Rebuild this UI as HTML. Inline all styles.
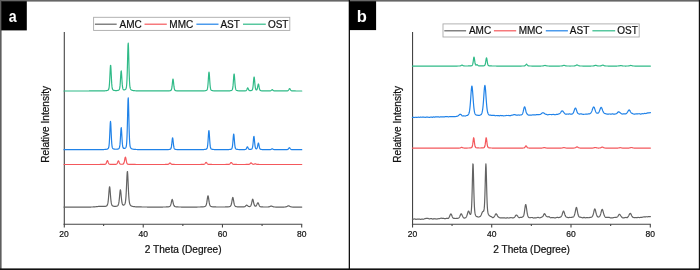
<!DOCTYPE html>
<html><head><meta charset="utf-8"><style>
html,body{margin:0;padding:0;background:#fff;}
body{width:700px;height:270px;overflow:hidden;position:relative;font-family:"Liberation Sans",sans-serif;}
svg{position:absolute;left:0;top:0;will-change:transform;}
.ax{stroke:#444;stroke-width:1.1;fill:none;}
.tl{font-family:"Liberation Sans",sans-serif;font-size:8.5px;fill:#111;stroke:#111;stroke-width:0.2px;text-anchor:middle;}
.xl{font-family:"Liberation Sans",sans-serif;font-size:10.1px;fill:#111;stroke:#111;stroke-width:0.22px;text-anchor:middle;}
.lt{font-family:"Liberation Sans",sans-serif;font-size:10px;fill:#111;stroke:#111;stroke-width:0.2px;}
.lg{fill:none;stroke:#aaa;stroke-width:0.9;}
.c{fill:none;stroke-width:1.2;stroke-linejoin:round;stroke-linecap:round;}
.pl{font-family:"Liberation Sans",sans-serif;font-size:16.5px;font-weight:bold;fill:#fff;text-anchor:middle;}
</style></head><body>
<svg width="700" height="270" viewBox="0 0 700 270">
<rect x="0" y="0" width="700" height="270" fill="#fff"/>
<!-- outer frame -->
<rect x="0" y="0" width="700" height="1.6" fill="#666"/>
<rect x="0" y="0" width="1.6" height="270" fill="#5e5e5e"/>
<rect x="698.8" y="0" width="1.2" height="270" fill="#111"/>
<rect x="0" y="268.4" width="700" height="1.6" fill="#111"/>
<rect x="348.7" y="0" width="1.3" height="270" fill="#111"/>
<!-- panel labels -->
<rect x="1.2" y="1.2" width="25.6" height="29.2" fill="#000"/>
<text transform="translate(12.7 22.2) scale(0.86 1)" class="pl">a</text>
<rect x="349.0" y="1.2" width="27.1" height="28.9" fill="#000"/>
<text x="361.9" y="22.1" class="pl">b</text>
<rect x="93.60" y="17.30" width="196.20" height="13.10" class="lg"/>
<line x1="94.90" y1="24.20" x2="116.70" y2="24.20" stroke="#636363" stroke-width="1.2"/>
<text x="119.50" y="27.50" class="lt">AMC</text>
<line x1="144.50" y1="24.20" x2="166.80" y2="24.20" stroke="#F4585C" stroke-width="1.2"/>
<text x="169.30" y="27.50" class="lt">MMC</text>
<line x1="196.40" y1="24.20" x2="218.50" y2="24.20" stroke="#2082E8" stroke-width="1.2"/>
<text x="220.40" y="27.50" class="lt">AST</text>
<line x1="243.00" y1="24.20" x2="265.80" y2="24.20" stroke="#2FBA87" stroke-width="1.2"/>
<text x="267.90" y="27.50" class="lt">OST</text>
<rect x="443.00" y="23.90" width="196.20" height="13.10" class="lg"/>
<line x1="444.30" y1="30.80" x2="466.10" y2="30.80" stroke="#636363" stroke-width="1.2"/>
<text x="468.90" y="34.10" class="lt">AMC</text>
<line x1="493.90" y1="30.80" x2="516.20" y2="30.80" stroke="#F4585C" stroke-width="1.2"/>
<text x="518.70" y="34.10" class="lt">MMC</text>
<line x1="545.80" y1="30.80" x2="567.90" y2="30.80" stroke="#2082E8" stroke-width="1.2"/>
<text x="569.80" y="34.10" class="lt">AST</text>
<line x1="592.40" y1="30.80" x2="615.20" y2="30.80" stroke="#2FBA87" stroke-width="1.2"/>
<text x="617.30" y="34.10" class="lt">OST</text>
<line x1="64.30" y1="32.10" x2="64.30" y2="227.50" class="ax"/>
<line x1="63.50" y1="224.20" x2="302.20" y2="224.20" class="ax"/>
<line x1="103.62" y1="224.20" x2="103.62" y2="225.90" class="ax"/>
<line x1="143.23" y1="224.20" x2="143.23" y2="227.50" class="ax"/>
<line x1="182.85" y1="224.20" x2="182.85" y2="225.90" class="ax"/>
<line x1="222.47" y1="224.20" x2="222.47" y2="227.50" class="ax"/>
<line x1="262.08" y1="224.20" x2="262.08" y2="225.90" class="ax"/>
<line x1="301.70" y1="224.20" x2="301.70" y2="227.50" class="ax"/>
<line x1="412.55" y1="32.10" x2="412.55" y2="227.60" class="ax"/>
<line x1="411.90" y1="224.30" x2="650.80" y2="224.30" class="ax"/>
<line x1="452.05" y1="224.30" x2="452.05" y2="226.00" class="ax"/>
<line x1="491.70" y1="224.30" x2="491.70" y2="227.60" class="ax"/>
<line x1="531.35" y1="224.30" x2="531.35" y2="226.00" class="ax"/>
<line x1="571.00" y1="224.30" x2="571.00" y2="227.60" class="ax"/>
<line x1="610.65" y1="224.30" x2="610.65" y2="226.00" class="ax"/>
<line x1="650.30" y1="224.30" x2="650.30" y2="227.60" class="ax"/>
<text x="64.00" y="237.00" class="tl">20</text>
<text x="143.23" y="237.00" class="tl">40</text>
<text x="222.47" y="237.00" class="tl">60</text>
<text x="301.70" y="237.00" class="tl">80</text>
<text x="412.40" y="237.00" class="tl">20</text>
<text x="491.70" y="237.00" class="tl">40</text>
<text x="571.00" y="237.00" class="tl">60</text>
<text x="650.30" y="237.00" class="tl">80</text>
<text x="183.2" y="252.6" class="xl">2 Theta (Degree)</text>
<text x="531.6" y="252.6" class="xl">2 Theta (Degree)</text>
<text transform="translate(49.2,124.3) rotate(-90)" class="xl">Relative Intensity</text>
<text transform="translate(400.5,124.3) rotate(-90)" class="xl">Relative Intensity</text>
<path class="c" stroke="#636363" d="M64.00 207.09 L64.25 207.09 L64.50 207.09 L64.75 207.09 L65.00 207.09 L65.25 207.09 L65.50 207.09 L65.75 207.09 L66.00 207.09 L66.25 207.09 L66.50 207.09 L66.75 207.09 L67.00 207.09 L67.25 207.09 L67.50 207.09 L67.75 207.09 L68.00 207.08 L68.25 207.08 L68.50 207.08 L68.75 207.08 L69.00 207.08 L69.25 207.08 L69.50 207.08 L69.75 207.08 L70.00 207.08 L70.25 207.08 L70.50 207.08 L70.75 207.08 L71.00 207.08 L71.25 207.08 L71.50 207.08 L71.75 207.08 L72.00 207.08 L72.25 207.08 L72.50 207.08 L72.75 207.08 L73.00 207.08 L73.25 207.08 L73.50 207.08 L73.75 207.08 L74.00 207.08 L74.25 207.08 L74.50 207.08 L74.75 207.08 L75.00 207.08 L75.25 207.08 L75.50 207.08 L75.75 207.08 L76.00 207.08 L76.25 207.08 L76.50 207.08 L76.75 207.08 L77.00 207.08 L77.25 207.08 L77.50 207.08 L77.75 207.08 L78.00 207.08 L78.25 207.08 L78.50 207.08 L78.75 207.08 L79.00 207.08 L79.25 207.07 L79.50 207.07 L79.75 207.07 L80.00 207.07 L80.25 207.07 L80.50 207.07 L80.75 207.07 L81.00 207.07 L81.25 207.07 L81.50 207.07 L81.75 207.07 L82.00 207.07 L82.25 207.07 L82.50 207.07 L82.75 207.07 L83.00 207.07 L83.25 207.07 L83.50 207.07 L83.75 207.07 L84.00 207.07 L84.25 207.07 L84.50 207.07 L84.75 207.07 L85.00 207.07 L85.25 207.06 L85.50 207.06 L85.75 207.06 L86.00 207.06 L86.25 207.06 L86.50 207.06 L86.75 207.06 L87.00 207.06 L87.25 207.06 L87.50 207.06 L87.75 207.06 L88.00 207.06 L88.25 207.05 L88.50 207.05 L88.75 207.05 L89.00 207.05 L89.25 207.05 L89.50 207.05 L89.75 207.04 L90.00 207.04 L90.25 207.04 L90.50 207.04 L90.75 207.03 L91.00 207.03 L91.25 207.02 L91.50 207.02 L91.75 207.01 L92.00 207.00 L92.25 207.00 L92.50 206.99 L92.75 206.98 L93.00 206.96 L93.25 206.95 L93.50 206.94 L93.75 206.92 L94.00 206.90 L94.25 206.88 L94.50 206.86 L94.75 206.84 L95.00 206.82 L95.25 206.79 L95.50 206.77 L95.75 206.74 L96.00 206.71 L96.25 206.68 L96.50 206.65 L96.75 206.62 L97.00 206.59 L97.25 206.56 L97.50 206.54 L97.75 206.51 L98.00 206.48 L98.25 206.46 L98.50 206.43 L98.75 206.41 L99.00 206.39 L99.25 206.38 L99.50 206.36 L99.75 206.35 L100.00 206.35 L100.25 206.34 L100.50 206.34 L100.75 206.34 L101.00 206.34 L101.25 206.34 L101.50 206.35 L101.75 206.36 L102.00 206.37 L102.25 206.38 L102.50 206.39 L102.75 206.40 L103.00 206.41 L103.25 206.41 L103.50 206.42 L103.75 206.42 L104.00 206.42 L104.25 206.42 L104.50 206.41 L104.75 206.39 L105.00 206.37 L105.25 206.33 L105.50 206.29 L105.75 206.24 L106.00 206.16 L106.25 206.07 L106.50 205.95 L106.75 205.78 L107.00 205.53 L107.25 205.17 L107.50 204.60 L107.75 203.71 L108.00 202.39 L108.25 200.49 L108.50 197.98 L108.75 194.92 L109.00 191.59 L109.25 188.60 L109.50 186.83 L109.75 187.04 L110.00 189.12 L110.25 192.24 L110.50 195.55 L110.75 198.51 L111.00 200.90 L111.25 202.66 L111.50 203.89 L111.75 204.69 L112.00 205.21 L112.25 205.55 L112.50 205.77 L112.75 205.93 L113.00 206.05 L113.25 206.14 L113.50 206.20 L113.75 206.26 L114.00 206.30 L114.25 206.33 L114.50 206.35 L114.75 206.36 L115.00 206.36 L115.25 206.36 L115.50 206.35 L115.75 206.33 L116.00 206.30 L116.25 206.26 L116.50 206.22 L116.75 206.15 L117.00 206.07 L117.25 205.97 L117.50 205.83 L117.75 205.63 L118.00 205.34 L118.25 204.90 L118.50 204.21 L118.75 203.17 L119.00 201.68 L119.25 199.67 L119.50 197.17 L119.75 194.38 L120.00 191.75 L120.25 189.99 L120.50 189.79 L120.75 191.24 L121.00 193.72 L121.25 196.48 L121.50 199.01 L121.75 201.07 L122.00 202.61 L122.25 203.67 L122.50 204.35 L122.75 204.76 L123.00 204.99 L123.25 205.10 L123.50 205.13 L123.75 205.10 L124.00 205.01 L124.25 204.86 L124.50 204.63 L124.75 204.27 L125.00 203.71 L125.25 202.82 L125.50 201.42 L125.75 199.29 L126.00 196.21 L126.25 192.04 L126.50 186.85 L126.75 181.06 L127.00 175.60 L127.25 171.95 L127.50 171.60 L127.75 174.70 L128.00 179.96 L128.25 185.81 L128.50 191.19 L128.75 195.61 L129.00 198.94 L129.25 201.28 L129.50 202.84 L129.75 203.86 L130.00 204.52 L130.25 204.97 L130.50 205.29 L130.75 205.53 L131.00 205.72 L131.25 205.88 L131.50 206.01 L131.75 206.12 L132.00 206.21 L132.25 206.29 L132.50 206.36 L132.75 206.42 L133.00 206.47 L133.25 206.52 L133.50 206.56 L133.75 206.60 L134.00 206.63 L134.25 206.66 L134.50 206.69 L134.75 206.71 L135.00 206.74 L135.25 206.76 L135.50 206.78 L135.75 206.79 L136.00 206.81 L136.25 206.82 L136.50 206.84 L136.75 206.85 L137.00 206.86 L137.25 206.87 L137.50 206.88 L137.75 206.89 L138.00 206.90 L138.25 206.91 L138.50 206.91 L138.75 206.92 L139.00 206.93 L139.25 206.93 L139.50 206.94 L139.75 206.94 L140.00 206.95 L140.25 206.95 L140.50 206.96 L140.75 206.96 L141.00 206.97 L141.25 206.97 L141.50 206.97 L141.75 206.98 L142.00 206.98 L142.25 206.98 L142.50 206.99 L142.75 206.99 L143.00 206.99 L143.25 207.00 L143.50 207.00 L143.75 207.00 L144.00 207.00 L144.25 207.01 L144.50 207.01 L144.75 207.01 L145.00 207.01 L145.25 207.01 L145.50 207.02 L145.75 207.02 L146.00 207.02 L146.25 207.02 L146.50 207.02 L146.75 207.02 L147.00 207.02 L147.25 207.03 L147.50 207.03 L147.75 207.03 L148.00 207.03 L148.25 207.03 L148.50 207.03 L148.75 207.03 L149.00 207.03 L149.25 207.03 L149.50 207.04 L149.75 207.04 L150.00 207.04 L150.25 207.04 L150.50 207.04 L150.75 207.04 L151.00 207.04 L151.25 207.04 L151.50 207.04 L151.75 207.04 L152.00 207.04 L152.25 207.04 L152.50 207.04 L152.75 207.04 L153.00 207.04 L153.25 207.04 L153.50 207.05 L153.75 207.05 L154.00 207.05 L154.25 207.05 L154.50 207.05 L154.75 207.05 L155.00 207.05 L155.25 207.05 L155.50 207.05 L155.75 207.05 L156.00 207.05 L156.25 207.05 L156.50 207.05 L156.75 207.05 L157.00 207.05 L157.25 207.05 L157.50 207.05 L157.75 207.05 L158.00 207.05 L158.25 207.05 L158.50 207.04 L158.75 207.04 L159.00 207.04 L159.25 207.04 L159.50 207.04 L159.75 207.04 L160.00 207.04 L160.25 207.04 L160.50 207.04 L160.75 207.04 L161.00 207.04 L161.25 207.04 L161.50 207.03 L161.75 207.03 L162.00 207.03 L162.25 207.03 L162.50 207.03 L162.75 207.03 L163.00 207.02 L163.25 207.02 L163.50 207.02 L163.75 207.02 L164.00 207.01 L164.25 207.01 L164.50 207.00 L164.75 207.00 L165.00 207.00 L165.25 206.99 L165.50 206.98 L165.75 206.98 L166.00 206.97 L166.25 206.96 L166.50 206.95 L166.75 206.94 L167.00 206.93 L167.25 206.91 L167.50 206.90 L167.75 206.88 L168.00 206.85 L168.25 206.83 L168.50 206.79 L168.75 206.75 L169.00 206.70 L169.25 206.63 L169.50 206.54 L169.75 206.40 L170.00 206.19 L170.25 205.88 L170.50 205.41 L170.75 204.76 L171.00 203.89 L171.25 202.83 L171.50 201.65 L171.75 200.52 L172.00 199.71 L172.25 199.49 L172.50 199.97 L172.75 200.95 L173.00 202.13 L173.25 203.28 L173.50 204.26 L173.75 205.04 L174.00 205.62 L174.25 206.02 L174.50 206.29 L174.75 206.46 L175.00 206.58 L175.25 206.66 L175.50 206.72 L175.75 206.77 L176.00 206.81 L176.25 206.84 L176.50 206.86 L176.75 206.89 L177.00 206.90 L177.25 206.92 L177.50 206.93 L177.75 206.95 L178.00 206.96 L178.25 206.97 L178.50 206.98 L178.75 206.98 L179.00 206.99 L179.25 207.00 L179.50 207.00 L179.75 207.01 L180.00 207.01 L180.25 207.01 L180.50 207.02 L180.75 207.02 L181.00 207.02 L181.25 207.03 L181.50 207.03 L181.75 207.03 L182.00 207.03 L182.25 207.04 L182.50 207.04 L182.75 207.04 L183.00 207.04 L183.25 207.04 L183.50 207.04 L183.75 207.04 L184.00 207.05 L184.25 207.05 L184.50 207.05 L184.75 207.05 L185.00 207.05 L185.25 207.05 L185.50 207.05 L185.75 207.05 L186.00 207.05 L186.25 207.05 L186.50 207.05 L186.75 207.05 L187.00 207.05 L187.25 207.05 L187.50 207.05 L187.75 207.05 L188.00 207.05 L188.25 207.06 L188.50 207.06 L188.75 207.06 L189.00 207.06 L189.25 207.06 L189.50 207.06 L189.75 207.06 L190.00 207.05 L190.25 207.05 L190.50 207.05 L190.75 207.05 L191.00 207.05 L191.25 207.05 L191.50 207.05 L191.75 207.05 L192.00 207.05 L192.25 207.05 L192.50 207.05 L192.75 207.05 L193.00 207.05 L193.25 207.05 L193.50 207.05 L193.75 207.05 L194.00 207.05 L194.25 207.05 L194.50 207.04 L194.75 207.04 L195.00 207.04 L195.25 207.04 L195.50 207.04 L195.75 207.04 L196.00 207.04 L196.25 207.04 L196.50 207.03 L196.75 207.03 L197.00 207.03 L197.25 207.03 L197.50 207.02 L197.75 207.02 L198.00 207.02 L198.25 207.02 L198.50 207.01 L198.75 207.01 L199.00 207.00 L199.25 207.00 L199.50 207.00 L199.75 206.99 L200.00 206.99 L200.25 206.98 L200.50 206.97 L200.75 206.96 L201.00 206.96 L201.25 206.95 L201.50 206.94 L201.75 206.93 L202.00 206.91 L202.25 206.90 L202.50 206.88 L202.75 206.86 L203.00 206.84 L203.25 206.82 L203.50 206.79 L203.75 206.76 L204.00 206.72 L204.25 206.67 L204.50 206.61 L204.75 206.54 L205.00 206.44 L205.25 206.31 L205.50 206.12 L205.75 205.84 L206.00 205.40 L206.25 204.76 L206.50 203.85 L206.75 202.63 L207.00 201.10 L207.25 199.37 L207.50 197.65 L207.75 196.30 L208.00 195.78 L208.25 196.30 L208.50 197.65 L208.75 199.37 L209.00 201.10 L209.25 202.63 L209.50 203.85 L209.75 204.76 L210.00 205.40 L210.25 205.83 L210.50 206.12 L210.75 206.31 L211.00 206.44 L211.25 206.54 L211.50 206.61 L211.75 206.66 L212.00 206.71 L212.25 206.75 L212.50 206.78 L212.75 206.81 L213.00 206.84 L213.25 206.86 L213.50 206.88 L213.75 206.89 L214.00 206.91 L214.25 206.92 L214.50 206.93 L214.75 206.94 L215.00 206.95 L215.25 206.95 L215.50 206.96 L215.75 206.97 L216.00 206.97 L216.25 206.98 L216.50 206.98 L216.75 206.99 L217.00 206.99 L217.25 206.99 L217.50 207.00 L217.75 207.00 L218.00 207.00 L218.25 207.00 L218.50 207.01 L218.75 207.01 L219.00 207.01 L219.25 207.01 L219.50 207.01 L219.75 207.01 L220.00 207.01 L220.25 207.01 L220.50 207.01 L220.75 207.01 L221.00 207.01 L221.25 207.01 L221.50 207.01 L221.75 207.01 L222.00 207.01 L222.25 207.01 L222.50 207.01 L222.75 207.01 L223.00 207.00 L223.25 207.00 L223.50 207.00 L223.75 207.00 L224.00 206.99 L224.25 206.99 L224.50 206.99 L224.75 206.98 L225.00 206.98 L225.25 206.97 L225.50 206.97 L225.75 206.96 L226.00 206.95 L226.25 206.95 L226.50 206.94 L226.75 206.93 L227.00 206.91 L227.25 206.90 L227.50 206.89 L227.75 206.87 L228.00 206.85 L228.25 206.83 L228.50 206.80 L228.75 206.77 L229.00 206.73 L229.25 206.68 L229.50 206.62 L229.75 206.55 L230.00 206.44 L230.25 206.29 L230.50 206.07 L230.75 205.73 L231.00 205.22 L231.25 204.50 L231.50 203.51 L231.75 202.27 L232.00 200.82 L232.25 199.33 L232.50 198.09 L232.75 197.49 L233.00 197.75 L233.25 198.78 L233.50 200.22 L233.75 201.70 L234.00 203.04 L234.25 204.13 L234.50 204.96 L234.75 205.55 L235.00 205.94 L235.25 206.21 L235.50 206.38 L235.75 206.50 L236.00 206.59 L236.25 206.65 L236.50 206.70 L236.75 206.74 L237.00 206.77 L237.25 206.80 L237.50 206.83 L237.75 206.85 L238.00 206.86 L238.25 206.88 L238.50 206.89 L238.75 206.90 L239.00 206.91 L239.25 206.92 L239.50 206.93 L239.75 206.93 L240.00 206.94 L240.25 206.94 L240.50 206.94 L240.75 206.95 L241.00 206.95 L241.25 206.95 L241.50 206.95 L241.75 206.95 L242.00 206.95 L242.25 206.94 L242.50 206.94 L242.75 206.93 L243.00 206.93 L243.25 206.91 L243.50 206.90 L243.75 206.88 L244.00 206.84 L244.25 206.79 L244.50 206.72 L244.75 206.62 L245.00 206.47 L245.25 206.29 L245.50 206.07 L245.75 205.82 L246.00 205.56 L246.25 205.33 L246.50 205.18 L246.75 205.13 L247.00 205.21 L247.25 205.38 L247.50 205.60 L247.75 205.84 L248.00 206.06 L248.25 206.24 L248.50 206.38 L248.75 206.48 L249.00 206.53 L249.25 206.55 L249.50 206.54 L249.75 206.49 L250.00 206.41 L250.25 206.28 L250.50 206.07 L250.75 205.76 L251.00 205.28 L251.25 204.61 L251.50 203.73 L251.75 202.64 L252.00 201.43 L252.25 200.27 L252.50 199.43 L252.75 199.20 L253.00 199.69 L253.25 200.70 L253.50 201.90 L253.75 203.06 L254.00 204.07 L254.25 204.85 L254.50 205.42 L254.75 205.81 L255.00 206.05 L255.25 206.17 L255.50 206.20 L255.75 206.15 L256.00 205.99 L256.25 205.73 L256.50 205.35 L256.75 204.84 L257.00 204.26 L257.25 203.64 L257.50 203.11 L257.75 202.77 L258.00 202.75 L258.25 203.06 L258.50 203.60 L258.75 204.24 L259.00 204.87 L259.25 205.43 L259.50 205.88 L259.75 206.22 L260.00 206.46 L260.25 206.62 L260.50 206.73 L260.75 206.79 L261.00 206.84 L261.25 206.87 L261.50 206.89 L261.75 206.91 L262.00 206.93 L262.25 206.94 L262.50 206.95 L262.75 206.96 L263.00 206.97 L263.25 206.98 L263.50 206.98 L263.75 206.99 L264.00 206.99 L264.25 207.00 L264.50 207.00 L264.75 207.00 L265.00 207.00 L265.25 207.01 L265.50 207.01 L265.75 207.01 L266.00 207.01 L266.25 207.01 L266.50 207.01 L266.75 207.01 L267.00 207.00 L267.25 207.00 L267.50 206.99 L267.75 206.98 L268.00 206.97 L268.25 206.95 L268.50 206.92 L268.75 206.88 L269.00 206.83 L269.25 206.76 L269.50 206.68 L269.75 206.58 L270.00 206.48 L270.25 206.36 L270.50 206.26 L270.75 206.16 L271.00 206.10 L271.25 206.07 L271.50 206.08 L271.75 206.14 L272.00 206.22 L272.25 206.33 L272.50 206.44 L272.75 206.55 L273.00 206.65 L273.25 206.74 L273.50 206.81 L273.75 206.87 L274.00 206.92 L274.25 206.96 L274.50 206.98 L274.75 207.00 L275.00 207.01 L275.25 207.02 L275.50 207.03 L275.75 207.04 L276.00 207.04 L276.25 207.04 L276.50 207.05 L276.75 207.05 L277.00 207.05 L277.25 207.05 L277.50 207.05 L277.75 207.06 L278.00 207.06 L278.25 207.06 L278.50 207.06 L278.75 207.06 L279.00 207.06 L279.25 207.06 L279.50 207.06 L279.75 207.06 L280.00 207.06 L280.25 207.06 L280.50 207.06 L280.75 207.06 L281.00 207.06 L281.25 207.06 L281.50 207.06 L281.75 207.06 L282.00 207.06 L282.25 207.06 L282.50 207.05 L282.75 207.05 L283.00 207.05 L283.25 207.05 L283.50 207.04 L283.75 207.04 L284.00 207.04 L284.25 207.03 L284.50 207.02 L284.75 207.01 L285.00 206.99 L285.25 206.97 L285.50 206.94 L285.75 206.90 L286.00 206.84 L286.25 206.77 L286.50 206.68 L286.75 206.56 L287.00 206.44 L287.25 206.30 L287.50 206.15 L287.75 206.01 L288.00 205.90 L288.25 205.82 L288.50 205.79 L288.75 205.82 L289.00 205.90 L289.25 206.01 L289.50 206.15 L289.75 206.30 L290.00 206.44 L290.25 206.57 L290.50 206.68 L290.75 206.77 L291.00 206.85 L291.25 206.90 L291.50 206.95 L291.75 206.98 L292.00 207.00 L292.25 207.02 L292.50 207.03 L292.75 207.04 L293.00 207.04 L293.25 207.05 L293.50 207.05 L293.75 207.06 L294.00 207.06 L294.25 207.06 L294.50 207.06 L294.75 207.07 L295.00 207.07 L295.25 207.07 L295.50 207.07 L295.75 207.07 L296.00 207.07 L296.25 207.07 L296.50 207.08 L296.75 207.08 L297.00 207.08 L297.25 207.08 L297.50 207.08 L297.75 207.08 L298.00 207.08 L298.25 207.08 L298.50 207.08 L298.75 207.08 L299.00 207.08 L299.25 207.08 L299.50 207.08 L299.75 207.08 L300.00 207.08 L300.25 207.09 L300.50 207.09 L300.75 207.09 L301.00 207.09 L301.25 207.09 L301.50 207.09 L301.75 207.09"/>
<path class="c" stroke="#F4585C" d="M64.00 164.50 L64.25 164.50 L64.50 164.50 L64.75 164.50 L65.00 164.50 L65.25 164.50 L65.50 164.50 L65.75 164.50 L66.00 164.50 L66.25 164.50 L66.50 164.50 L66.75 164.50 L67.00 164.50 L67.25 164.50 L67.50 164.50 L67.75 164.50 L68.00 164.50 L68.25 164.50 L68.50 164.50 L68.75 164.50 L69.00 164.50 L69.25 164.50 L69.50 164.50 L69.75 164.50 L70.00 164.50 L70.25 164.50 L70.50 164.50 L70.75 164.50 L71.00 164.50 L71.25 164.50 L71.50 164.50 L71.75 164.50 L72.00 164.50 L72.25 164.50 L72.50 164.50 L72.75 164.50 L73.00 164.50 L73.25 164.50 L73.50 164.50 L73.75 164.50 L74.00 164.50 L74.25 164.50 L74.50 164.50 L74.75 164.50 L75.00 164.50 L75.25 164.50 L75.50 164.50 L75.75 164.50 L76.00 164.50 L76.25 164.50 L76.50 164.50 L76.75 164.50 L77.00 164.50 L77.25 164.50 L77.50 164.50 L77.75 164.50 L78.00 164.50 L78.25 164.50 L78.50 164.50 L78.75 164.50 L79.00 164.50 L79.25 164.50 L79.50 164.50 L79.75 164.50 L80.00 164.50 L80.25 164.50 L80.50 164.50 L80.75 164.50 L81.00 164.50 L81.25 164.50 L81.50 164.50 L81.75 164.50 L82.00 164.50 L82.25 164.50 L82.50 164.50 L82.75 164.50 L83.00 164.50 L83.25 164.50 L83.50 164.50 L83.75 164.50 L84.00 164.50 L84.25 164.50 L84.50 164.50 L84.75 164.50 L85.00 164.50 L85.25 164.50 L85.50 164.50 L85.75 164.50 L86.00 164.50 L86.25 164.49 L86.50 164.49 L86.75 164.49 L87.00 164.49 L87.25 164.49 L87.50 164.49 L87.75 164.49 L88.00 164.49 L88.25 164.49 L88.50 164.49 L88.75 164.49 L89.00 164.49 L89.25 164.49 L89.50 164.49 L89.75 164.49 L90.00 164.49 L90.25 164.49 L90.50 164.49 L90.75 164.49 L91.00 164.49 L91.25 164.49 L91.50 164.49 L91.75 164.49 L92.00 164.49 L92.25 164.49 L92.50 164.49 L92.75 164.49 L93.00 164.49 L93.25 164.49 L93.50 164.49 L93.75 164.49 L94.00 164.49 L94.25 164.49 L94.50 164.49 L94.75 164.49 L95.00 164.49 L95.25 164.49 L95.50 164.49 L95.75 164.49 L96.00 164.49 L96.25 164.49 L96.50 164.49 L96.75 164.49 L97.00 164.48 L97.25 164.48 L97.50 164.48 L97.75 164.48 L98.00 164.48 L98.25 164.48 L98.50 164.48 L98.75 164.48 L99.00 164.48 L99.25 164.48 L99.50 164.48 L99.75 164.48 L100.00 164.47 L100.25 164.47 L100.50 164.47 L100.75 164.47 L101.00 164.47 L101.25 164.46 L101.50 164.46 L101.75 164.46 L102.00 164.46 L102.25 164.45 L102.50 164.45 L102.75 164.44 L103.00 164.44 L103.25 164.43 L103.50 164.42 L103.75 164.41 L104.00 164.40 L104.25 164.39 L104.50 164.37 L104.75 164.34 L105.00 164.30 L105.25 164.24 L105.50 164.12 L105.75 163.93 L106.00 163.61 L106.25 163.15 L106.50 162.54 L106.75 161.82 L107.00 161.14 L107.25 160.67 L107.50 160.62 L107.75 161.02 L108.00 161.68 L108.25 162.40 L108.50 163.03 L108.75 163.53 L109.00 163.87 L109.25 164.08 L109.50 164.21 L109.75 164.28 L110.00 164.32 L110.25 164.35 L110.50 164.37 L110.75 164.38 L111.00 164.39 L111.25 164.40 L111.50 164.41 L111.75 164.41 L112.00 164.41 L112.25 164.42 L112.50 164.42 L112.75 164.42 L113.00 164.42 L113.25 164.42 L113.50 164.41 L113.75 164.41 L114.00 164.41 L114.25 164.40 L114.50 164.40 L114.75 164.39 L115.00 164.38 L115.25 164.37 L115.50 164.35 L115.75 164.33 L116.00 164.29 L116.25 164.23 L116.50 164.12 L116.75 163.94 L117.00 163.65 L117.25 163.22 L117.50 162.66 L117.75 162.00 L118.00 161.36 L118.25 160.93 L118.50 160.88 L118.75 161.24 L119.00 161.85 L119.25 162.51 L119.50 163.10 L119.75 163.55 L120.00 163.86 L120.25 164.05 L120.50 164.16 L120.75 164.22 L121.00 164.25 L121.25 164.26 L121.50 164.26 L121.75 164.26 L122.00 164.25 L122.25 164.23 L122.50 164.21 L122.75 164.16 L123.00 164.09 L123.25 163.97 L123.50 163.76 L123.75 163.40 L124.00 162.81 L124.25 161.93 L124.50 160.77 L124.75 159.42 L125.00 158.12 L125.25 157.24 L125.50 157.15 L125.75 157.90 L126.00 159.15 L126.25 160.52 L126.50 161.73 L126.75 162.67 L127.00 163.32 L127.25 163.73 L127.50 163.97 L127.75 164.11 L128.00 164.19 L128.25 164.25 L128.50 164.28 L128.75 164.31 L129.00 164.34 L129.25 164.35 L129.50 164.37 L129.75 164.38 L130.00 164.39 L130.25 164.40 L130.50 164.41 L130.75 164.42 L131.00 164.43 L131.25 164.43 L131.50 164.44 L131.75 164.44 L132.00 164.44 L132.25 164.45 L132.50 164.45 L132.75 164.45 L133.00 164.46 L133.25 164.46 L133.50 164.46 L133.75 164.46 L134.00 164.47 L134.25 164.47 L134.50 164.47 L134.75 164.47 L135.00 164.47 L135.25 164.47 L135.50 164.47 L135.75 164.48 L136.00 164.48 L136.25 164.48 L136.50 164.48 L136.75 164.48 L137.00 164.48 L137.25 164.48 L137.50 164.48 L137.75 164.48 L138.00 164.48 L138.25 164.48 L138.50 164.48 L138.75 164.48 L139.00 164.48 L139.25 164.48 L139.50 164.49 L139.75 164.49 L140.00 164.49 L140.25 164.49 L140.50 164.49 L140.75 164.49 L141.00 164.49 L141.25 164.49 L141.50 164.49 L141.75 164.49 L142.00 164.49 L142.25 164.49 L142.50 164.49 L142.75 164.49 L143.00 164.49 L143.25 164.49 L143.50 164.49 L143.75 164.49 L144.00 164.49 L144.25 164.49 L144.50 164.49 L144.75 164.49 L145.00 164.49 L145.25 164.49 L145.50 164.49 L145.75 164.49 L146.00 164.49 L146.25 164.49 L146.50 164.49 L146.75 164.49 L147.00 164.49 L147.25 164.49 L147.50 164.49 L147.75 164.49 L148.00 164.49 L148.25 164.49 L148.50 164.49 L148.75 164.49 L149.00 164.49 L149.25 164.49 L149.50 164.49 L149.75 164.49 L150.00 164.49 L150.25 164.49 L150.50 164.49 L150.75 164.49 L151.00 164.49 L151.25 164.49 L151.50 164.49 L151.75 164.49 L152.00 164.49 L152.25 164.49 L152.50 164.49 L152.75 164.49 L153.00 164.49 L153.25 164.49 L153.50 164.49 L153.75 164.49 L154.00 164.49 L154.25 164.49 L154.50 164.49 L154.75 164.49 L155.00 164.49 L155.25 164.49 L155.50 164.49 L155.75 164.49 L156.00 164.49 L156.25 164.49 L156.50 164.49 L156.75 164.49 L157.00 164.49 L157.25 164.49 L157.50 164.49 L157.75 164.49 L158.00 164.49 L158.25 164.49 L158.50 164.49 L158.75 164.49 L159.00 164.49 L159.25 164.49 L159.50 164.49 L159.75 164.49 L160.00 164.49 L160.25 164.49 L160.50 164.49 L160.75 164.49 L161.00 164.49 L161.25 164.49 L161.50 164.49 L161.75 164.49 L162.00 164.49 L162.25 164.49 L162.50 164.49 L162.75 164.49 L163.00 164.49 L163.25 164.49 L163.50 164.48 L163.75 164.48 L164.00 164.48 L164.25 164.48 L164.50 164.48 L164.75 164.48 L165.00 164.48 L165.25 164.47 L165.50 164.47 L165.75 164.47 L166.00 164.47 L166.25 164.46 L166.50 164.46 L166.75 164.45 L167.00 164.44 L167.25 164.43 L167.50 164.41 L167.75 164.38 L168.00 164.33 L168.25 164.25 L168.50 164.13 L168.75 163.96 L169.00 163.75 L169.25 163.50 L169.50 163.26 L169.75 163.07 L170.00 163.00 L170.25 163.07 L170.50 163.26 L170.75 163.50 L171.00 163.75 L171.25 163.96 L171.50 164.13 L171.75 164.25 L172.00 164.33 L172.25 164.38 L172.50 164.41 L172.75 164.43 L173.00 164.44 L173.25 164.45 L173.50 164.46 L173.75 164.46 L174.00 164.47 L174.25 164.47 L174.50 164.47 L174.75 164.48 L175.00 164.48 L175.25 164.48 L175.50 164.48 L175.75 164.48 L176.00 164.48 L176.25 164.48 L176.50 164.49 L176.75 164.49 L177.00 164.49 L177.25 164.49 L177.50 164.49 L177.75 164.49 L178.00 164.49 L178.25 164.49 L178.50 164.49 L178.75 164.49 L179.00 164.49 L179.25 164.49 L179.50 164.49 L179.75 164.49 L180.00 164.49 L180.25 164.49 L180.50 164.49 L180.75 164.49 L181.00 164.49 L181.25 164.49 L181.50 164.49 L181.75 164.49 L182.00 164.49 L182.25 164.49 L182.50 164.49 L182.75 164.49 L183.00 164.49 L183.25 164.49 L183.50 164.49 L183.75 164.49 L184.00 164.49 L184.25 164.49 L184.50 164.49 L184.75 164.49 L185.00 164.49 L185.25 164.49 L185.50 164.49 L185.75 164.49 L186.00 164.49 L186.25 164.49 L186.50 164.49 L186.75 164.49 L187.00 164.49 L187.25 164.49 L187.50 164.49 L187.75 164.49 L188.00 164.49 L188.25 164.49 L188.50 164.49 L188.75 164.49 L189.00 164.49 L189.25 164.49 L189.50 164.49 L189.75 164.49 L190.00 164.49 L190.25 164.49 L190.50 164.49 L190.75 164.49 L191.00 164.49 L191.25 164.49 L191.50 164.49 L191.75 164.49 L192.00 164.49 L192.25 164.49 L192.50 164.49 L192.75 164.49 L193.00 164.49 L193.25 164.49 L193.50 164.49 L193.75 164.49 L194.00 164.49 L194.25 164.49 L194.50 164.49 L194.75 164.49 L195.00 164.49 L195.25 164.49 L195.50 164.49 L195.75 164.49 L196.00 164.49 L196.25 164.49 L196.50 164.49 L196.75 164.49 L197.00 164.49 L197.25 164.49 L197.50 164.49 L197.75 164.49 L198.00 164.49 L198.25 164.49 L198.50 164.49 L198.75 164.48 L199.00 164.48 L199.25 164.48 L199.50 164.48 L199.75 164.48 L200.00 164.48 L200.25 164.48 L200.50 164.48 L200.75 164.47 L201.00 164.47 L201.25 164.47 L201.50 164.46 L201.75 164.46 L202.00 164.46 L202.25 164.45 L202.50 164.44 L202.75 164.44 L203.00 164.43 L203.25 164.41 L203.50 164.39 L203.75 164.36 L204.00 164.30 L204.25 164.20 L204.50 164.06 L204.75 163.85 L205.00 163.57 L205.25 163.24 L205.50 162.89 L205.75 162.59 L206.00 162.41 L206.25 162.43 L206.50 162.64 L206.75 162.96 L207.00 163.31 L207.25 163.64 L207.50 163.90 L207.75 164.09 L208.00 164.23 L208.25 164.31 L208.50 164.36 L208.75 164.40 L209.00 164.42 L209.25 164.43 L209.50 164.44 L209.75 164.45 L210.00 164.45 L210.25 164.46 L210.50 164.46 L210.75 164.46 L211.00 164.47 L211.25 164.47 L211.50 164.47 L211.75 164.47 L212.00 164.48 L212.25 164.48 L212.50 164.48 L212.75 164.48 L213.00 164.48 L213.25 164.48 L213.50 164.48 L213.75 164.48 L214.00 164.48 L214.25 164.49 L214.50 164.49 L214.75 164.49 L215.00 164.49 L215.25 164.49 L215.50 164.49 L215.75 164.49 L216.00 164.49 L216.25 164.49 L216.50 164.49 L216.75 164.49 L217.00 164.49 L217.25 164.49 L217.50 164.49 L217.75 164.49 L218.00 164.49 L218.25 164.49 L218.50 164.49 L218.75 164.49 L219.00 164.49 L219.25 164.49 L219.50 164.49 L219.75 164.49 L220.00 164.49 L220.25 164.49 L220.50 164.49 L220.75 164.49 L221.00 164.49 L221.25 164.49 L221.50 164.49 L221.75 164.49 L222.00 164.49 L222.25 164.49 L222.50 164.49 L222.75 164.49 L223.00 164.49 L223.25 164.49 L223.50 164.48 L223.75 164.48 L224.00 164.48 L224.25 164.48 L224.50 164.48 L224.75 164.48 L225.00 164.48 L225.25 164.48 L225.50 164.48 L225.75 164.47 L226.00 164.47 L226.25 164.47 L226.50 164.47 L226.75 164.46 L227.00 164.46 L227.25 164.45 L227.50 164.45 L227.75 164.44 L228.00 164.43 L228.25 164.42 L228.50 164.40 L228.75 164.38 L229.00 164.33 L229.25 164.26 L229.50 164.14 L229.75 163.97 L230.00 163.73 L230.25 163.43 L230.50 163.10 L230.75 162.78 L231.00 162.56 L231.25 162.50 L231.50 162.63 L231.75 162.90 L232.00 163.24 L232.25 163.56 L232.50 163.83 L232.75 164.04 L233.00 164.19 L233.25 164.29 L233.50 164.35 L233.75 164.39 L234.00 164.41 L234.25 164.43 L234.50 164.44 L234.75 164.44 L235.00 164.45 L235.25 164.46 L235.50 164.46 L235.75 164.46 L236.00 164.47 L236.25 164.47 L236.50 164.47 L236.75 164.47 L237.00 164.48 L237.25 164.48 L237.50 164.48 L237.75 164.48 L238.00 164.48 L238.25 164.48 L238.50 164.48 L238.75 164.48 L239.00 164.48 L239.25 164.48 L239.50 164.48 L239.75 164.48 L240.00 164.48 L240.25 164.48 L240.50 164.48 L240.75 164.49 L241.00 164.49 L241.25 164.49 L241.50 164.49 L241.75 164.49 L242.00 164.49 L242.25 164.48 L242.50 164.48 L242.75 164.48 L243.00 164.48 L243.25 164.48 L243.50 164.48 L243.75 164.48 L244.00 164.48 L244.25 164.48 L244.50 164.48 L244.75 164.48 L245.00 164.48 L245.25 164.48 L245.50 164.48 L245.75 164.47 L246.00 164.47 L246.25 164.47 L246.50 164.47 L246.75 164.46 L247.00 164.46 L247.25 164.46 L247.50 164.45 L247.75 164.45 L248.00 164.44 L248.25 164.43 L248.50 164.41 L248.75 164.38 L249.00 164.34 L249.25 164.27 L249.50 164.16 L249.75 164.00 L250.00 163.79 L250.25 163.53 L250.50 163.27 L250.75 163.03 L251.00 162.90 L251.25 162.91 L251.50 163.07 L251.75 163.31 L252.00 163.57 L252.25 163.82 L252.50 164.01 L252.75 164.15 L253.00 164.24 L253.25 164.28 L253.50 164.29 L253.75 164.26 L254.00 164.20 L254.25 164.12 L254.50 164.01 L254.75 163.90 L255.00 163.81 L255.25 163.77 L255.50 163.79 L255.75 163.87 L256.00 163.99 L256.25 164.11 L256.50 164.21 L256.75 164.30 L257.00 164.36 L257.25 164.40 L257.50 164.43 L257.75 164.44 L258.00 164.45 L258.25 164.46 L258.50 164.47 L258.75 164.47 L259.00 164.47 L259.25 164.48 L259.50 164.48 L259.75 164.48 L260.00 164.48 L260.25 164.48 L260.50 164.48 L260.75 164.48 L261.00 164.49 L261.25 164.49 L261.50 164.49 L261.75 164.49 L262.00 164.49 L262.25 164.49 L262.50 164.49 L262.75 164.49 L263.00 164.49 L263.25 164.49 L263.50 164.49 L263.75 164.49 L264.00 164.49 L264.25 164.49 L264.50 164.49 L264.75 164.49 L265.00 164.49 L265.25 164.49 L265.50 164.49 L265.75 164.49 L266.00 164.49 L266.25 164.49 L266.50 164.49 L266.75 164.49 L267.00 164.50 L267.25 164.50 L267.50 164.50 L267.75 164.50 L268.00 164.50 L268.25 164.50 L268.50 164.50 L268.75 164.50 L269.00 164.50 L269.25 164.50 L269.50 164.50 L269.75 164.50 L270.00 164.50 L270.25 164.50 L270.50 164.50 L270.75 164.50 L271.00 164.50 L271.25 164.50 L271.50 164.50 L271.75 164.50 L272.00 164.50 L272.25 164.50 L272.50 164.50 L272.75 164.50 L273.00 164.50 L273.25 164.50 L273.50 164.50 L273.75 164.50 L274.00 164.50 L274.25 164.50 L274.50 164.50 L274.75 164.50 L275.00 164.50 L275.25 164.50 L275.50 164.50 L275.75 164.50 L276.00 164.50 L276.25 164.50 L276.50 164.50 L276.75 164.50 L277.00 164.50 L277.25 164.50 L277.50 164.50 L277.75 164.50 L278.00 164.50 L278.25 164.50 L278.50 164.50 L278.75 164.50 L279.00 164.50 L279.25 164.50 L279.50 164.50 L279.75 164.50 L280.00 164.50 L280.25 164.50 L280.50 164.50 L280.75 164.50 L281.00 164.50 L281.25 164.50 L281.50 164.50 L281.75 164.50 L282.00 164.50 L282.25 164.50 L282.50 164.50 L282.75 164.50 L283.00 164.50 L283.25 164.50 L283.50 164.50 L283.75 164.50 L284.00 164.50 L284.25 164.50 L284.50 164.50 L284.75 164.50 L285.00 164.50 L285.25 164.50 L285.50 164.50 L285.75 164.50 L286.00 164.50 L286.25 164.50 L286.50 164.50 L286.75 164.50 L287.00 164.50 L287.25 164.50 L287.50 164.50 L287.75 164.50 L288.00 164.50 L288.25 164.50 L288.50 164.50 L288.75 164.50 L289.00 164.50 L289.25 164.50 L289.50 164.50 L289.75 164.50 L290.00 164.50 L290.25 164.50 L290.50 164.50 L290.75 164.50 L291.00 164.50 L291.25 164.50 L291.50 164.50 L291.75 164.50 L292.00 164.50 L292.25 164.50 L292.50 164.50 L292.75 164.50 L293.00 164.50 L293.25 164.50 L293.50 164.50 L293.75 164.50 L294.00 164.50 L294.25 164.50 L294.50 164.50 L294.75 164.50 L295.00 164.50 L295.25 164.50 L295.50 164.50 L295.75 164.50 L296.00 164.50 L296.25 164.50 L296.50 164.50 L296.75 164.50 L297.00 164.50 L297.25 164.50 L297.50 164.50 L297.75 164.50 L298.00 164.50 L298.25 164.50 L298.50 164.50 L298.75 164.50 L299.00 164.50 L299.25 164.50 L299.50 164.50 L299.75 164.50 L300.00 164.50 L300.25 164.50 L300.50 164.50 L300.75 164.50 L301.00 164.50 L301.25 164.50 L301.50 164.50 L301.75 164.50"/>
<path class="c" stroke="#2082E8" d="M64.00 149.69 L64.25 149.69 L64.50 149.69 L64.75 149.69 L65.00 149.69 L65.25 149.69 L65.50 149.69 L65.75 149.69 L66.00 149.69 L66.25 149.69 L66.50 149.69 L66.75 149.69 L67.00 149.69 L67.25 149.69 L67.50 149.69 L67.75 149.69 L68.00 149.69 L68.25 149.69 L68.50 149.69 L68.75 149.69 L69.00 149.69 L69.25 149.69 L69.50 149.69 L69.75 149.69 L70.00 149.69 L70.25 149.69 L70.50 149.69 L70.75 149.69 L71.00 149.69 L71.25 149.69 L71.50 149.69 L71.75 149.69 L72.00 149.69 L72.25 149.69 L72.50 149.69 L72.75 149.69 L73.00 149.69 L73.25 149.69 L73.50 149.69 L73.75 149.69 L74.00 149.69 L74.25 149.69 L74.50 149.69 L74.75 149.69 L75.00 149.69 L75.25 149.69 L75.50 149.69 L75.75 149.69 L76.00 149.69 L76.25 149.69 L76.50 149.69 L76.75 149.69 L77.00 149.69 L77.25 149.69 L77.50 149.69 L77.75 149.69 L78.00 149.69 L78.25 149.69 L78.50 149.69 L78.75 149.69 L79.00 149.69 L79.25 149.68 L79.50 149.68 L79.75 149.68 L80.00 149.68 L80.25 149.68 L80.50 149.68 L80.75 149.68 L81.00 149.68 L81.25 149.68 L81.50 149.68 L81.75 149.68 L82.00 149.68 L82.25 149.68 L82.50 149.68 L82.75 149.68 L83.00 149.68 L83.25 149.68 L83.50 149.68 L83.75 149.68 L84.00 149.68 L84.25 149.68 L84.50 149.68 L84.75 149.68 L85.00 149.68 L85.25 149.68 L85.50 149.68 L85.75 149.68 L86.00 149.68 L86.25 149.68 L86.50 149.68 L86.75 149.68 L87.00 149.68 L87.25 149.68 L87.50 149.68 L87.75 149.68 L88.00 149.67 L88.25 149.67 L88.50 149.67 L88.75 149.67 L89.00 149.67 L89.25 149.67 L89.50 149.67 L89.75 149.67 L90.00 149.67 L90.25 149.67 L90.50 149.67 L90.75 149.67 L91.00 149.67 L91.25 149.67 L91.50 149.67 L91.75 149.67 L92.00 149.67 L92.25 149.67 L92.50 149.66 L92.75 149.66 L93.00 149.66 L93.25 149.66 L93.50 149.66 L93.75 149.66 L94.00 149.66 L94.25 149.66 L94.50 149.66 L94.75 149.66 L95.00 149.65 L95.25 149.65 L95.50 149.65 L95.75 149.65 L96.00 149.65 L96.25 149.65 L96.50 149.65 L96.75 149.65 L97.00 149.64 L97.25 149.64 L97.50 149.64 L97.75 149.64 L98.00 149.64 L98.25 149.63 L98.50 149.63 L98.75 149.63 L99.00 149.63 L99.25 149.62 L99.50 149.62 L99.75 149.62 L100.00 149.62 L100.25 149.61 L100.50 149.61 L100.75 149.61 L101.00 149.60 L101.25 149.60 L101.50 149.59 L101.75 149.59 L102.00 149.58 L102.25 149.58 L102.50 149.57 L102.75 149.56 L103.00 149.55 L103.25 149.55 L103.50 149.54 L103.75 149.53 L104.00 149.51 L104.25 149.50 L104.50 149.49 L104.75 149.47 L105.00 149.45 L105.25 149.43 L105.50 149.41 L105.75 149.38 L106.00 149.35 L106.25 149.31 L106.50 149.27 L106.75 149.22 L107.00 149.16 L107.25 149.08 L107.50 148.99 L107.75 148.87 L108.00 148.70 L108.25 148.45 L108.50 148.03 L108.75 147.26 L109.00 145.83 L109.25 143.37 L109.50 139.54 L109.75 134.35 L110.00 128.47 L110.25 123.41 L110.50 121.32 L110.75 123.40 L111.00 128.46 L111.25 134.33 L111.50 139.51 L111.75 143.34 L112.00 145.79 L112.25 147.21 L112.50 147.98 L112.75 148.39 L113.00 148.63 L113.25 148.79 L113.50 148.90 L113.75 148.99 L114.00 149.06 L114.25 149.11 L114.50 149.15 L114.75 149.18 L115.00 149.20 L115.25 149.22 L115.50 149.23 L115.75 149.24 L116.00 149.24 L116.25 149.23 L116.50 149.23 L116.75 149.21 L117.00 149.19 L117.25 149.16 L117.50 149.13 L117.75 149.08 L118.00 149.03 L118.25 148.95 L118.50 148.86 L118.75 148.72 L119.00 148.51 L119.25 148.14 L119.50 147.47 L119.75 146.23 L120.00 144.13 L120.25 140.95 L120.50 136.78 L120.75 132.26 L121.00 128.67 L121.25 127.67 L121.50 129.85 L121.75 133.98 L122.00 138.45 L122.25 142.23 L122.50 144.93 L122.75 146.62 L123.00 147.55 L123.25 148.04 L123.50 148.28 L123.75 148.40 L124.00 148.45 L124.25 148.46 L124.50 148.43 L124.75 148.37 L125.00 148.27 L125.25 148.13 L125.50 147.94 L125.75 147.64 L126.00 147.17 L126.25 146.32 L126.50 144.73 L126.75 141.82 L127.00 136.85 L127.25 129.31 L127.50 119.42 L127.75 108.67 L128.00 100.17 L128.25 97.84 L128.50 103.06 L128.75 112.95 L129.00 123.65 L129.25 132.71 L129.50 139.21 L129.75 143.29 L130.00 145.61 L130.25 146.87 L130.50 147.56 L130.75 147.97 L131.00 148.25 L131.25 148.46 L131.50 148.63 L131.75 148.76 L132.00 148.87 L132.25 148.96 L132.50 149.04 L132.75 149.10 L133.00 149.16 L133.25 149.21 L133.50 149.25 L133.75 149.28 L134.00 149.32 L134.25 149.34 L134.50 149.37 L134.75 149.39 L135.00 149.41 L135.25 149.43 L135.50 149.45 L135.75 149.46 L136.00 149.48 L136.25 149.49 L136.50 149.50 L136.75 149.51 L137.00 149.52 L137.25 149.53 L137.50 149.54 L137.75 149.54 L138.00 149.55 L138.25 149.56 L138.50 149.56 L138.75 149.57 L139.00 149.57 L139.25 149.58 L139.50 149.58 L139.75 149.59 L140.00 149.59 L140.25 149.60 L140.50 149.60 L140.75 149.60 L141.00 149.61 L141.25 149.61 L141.50 149.61 L141.75 149.61 L142.00 149.62 L142.25 149.62 L142.50 149.62 L142.75 149.62 L143.00 149.63 L143.25 149.63 L143.50 149.63 L143.75 149.63 L144.00 149.63 L144.25 149.63 L144.50 149.64 L144.75 149.64 L145.00 149.64 L145.25 149.64 L145.50 149.64 L145.75 149.64 L146.00 149.64 L146.25 149.65 L146.50 149.65 L146.75 149.65 L147.00 149.65 L147.25 149.65 L147.50 149.65 L147.75 149.65 L148.00 149.65 L148.25 149.65 L148.50 149.65 L148.75 149.65 L149.00 149.66 L149.25 149.66 L149.50 149.66 L149.75 149.66 L150.00 149.66 L150.25 149.66 L150.50 149.66 L150.75 149.66 L151.00 149.66 L151.25 149.66 L151.50 149.66 L151.75 149.66 L152.00 149.66 L152.25 149.66 L152.50 149.66 L152.75 149.66 L153.00 149.66 L153.25 149.66 L153.50 149.66 L153.75 149.66 L154.00 149.66 L154.25 149.66 L154.50 149.66 L154.75 149.66 L155.00 149.67 L155.25 149.67 L155.50 149.67 L155.75 149.67 L156.00 149.67 L156.25 149.67 L156.50 149.67 L156.75 149.67 L157.00 149.67 L157.25 149.67 L157.50 149.67 L157.75 149.67 L158.00 149.67 L158.25 149.66 L158.50 149.66 L158.75 149.66 L159.00 149.66 L159.25 149.66 L159.50 149.66 L159.75 149.66 L160.00 149.66 L160.25 149.66 L160.50 149.66 L160.75 149.66 L161.00 149.66 L161.25 149.66 L161.50 149.66 L161.75 149.66 L162.00 149.66 L162.25 149.66 L162.50 149.66 L162.75 149.65 L163.00 149.65 L163.25 149.65 L163.50 149.65 L163.75 149.65 L164.00 149.65 L164.25 149.64 L164.50 149.64 L164.75 149.64 L165.00 149.64 L165.25 149.63 L165.50 149.63 L165.75 149.63 L166.00 149.62 L166.25 149.62 L166.50 149.61 L166.75 149.61 L167.00 149.60 L167.25 149.59 L167.50 149.58 L167.75 149.57 L168.00 149.56 L168.25 149.55 L168.50 149.53 L168.75 149.51 L169.00 149.49 L169.25 149.46 L169.50 149.42 L169.75 149.38 L170.00 149.32 L170.25 149.23 L170.50 149.09 L170.75 148.84 L171.00 148.37 L171.25 147.53 L171.50 146.16 L171.75 144.19 L172.00 141.78 L172.25 139.42 L172.50 137.93 L172.75 138.11 L173.00 139.85 L173.25 142.28 L173.50 144.63 L173.75 146.48 L174.00 147.73 L174.25 148.49 L174.50 148.90 L174.75 149.13 L175.00 149.25 L175.25 149.33 L175.50 149.39 L175.75 149.43 L176.00 149.47 L176.25 149.49 L176.50 149.52 L176.75 149.54 L177.00 149.55 L177.25 149.57 L177.50 149.58 L177.75 149.59 L178.00 149.60 L178.25 149.60 L178.50 149.61 L178.75 149.62 L179.00 149.62 L179.25 149.63 L179.50 149.63 L179.75 149.63 L180.00 149.64 L180.25 149.64 L180.50 149.64 L180.75 149.65 L181.00 149.65 L181.25 149.65 L181.50 149.65 L181.75 149.65 L182.00 149.66 L182.25 149.66 L182.50 149.66 L182.75 149.66 L183.00 149.66 L183.25 149.66 L183.50 149.66 L183.75 149.66 L184.00 149.66 L184.25 149.66 L184.50 149.67 L184.75 149.67 L185.00 149.67 L185.25 149.67 L185.50 149.67 L185.75 149.67 L186.00 149.67 L186.25 149.67 L186.50 149.67 L186.75 149.67 L187.00 149.67 L187.25 149.67 L187.50 149.67 L187.75 149.67 L188.00 149.67 L188.25 149.67 L188.50 149.67 L188.75 149.67 L189.00 149.67 L189.25 149.67 L189.50 149.67 L189.75 149.67 L190.00 149.67 L190.25 149.67 L190.50 149.67 L190.75 149.67 L191.00 149.67 L191.25 149.67 L191.50 149.67 L191.75 149.67 L192.00 149.67 L192.25 149.67 L192.50 149.67 L192.75 149.67 L193.00 149.67 L193.25 149.67 L193.50 149.67 L193.75 149.67 L194.00 149.67 L194.25 149.67 L194.50 149.67 L194.75 149.66 L195.00 149.66 L195.25 149.66 L195.50 149.66 L195.75 149.66 L196.00 149.66 L196.25 149.66 L196.50 149.66 L196.75 149.66 L197.00 149.66 L197.25 149.66 L197.50 149.65 L197.75 149.65 L198.00 149.65 L198.25 149.65 L198.50 149.65 L198.75 149.65 L199.00 149.64 L199.25 149.64 L199.50 149.64 L199.75 149.64 L200.00 149.63 L200.25 149.63 L200.50 149.63 L200.75 149.62 L201.00 149.62 L201.25 149.61 L201.50 149.61 L201.75 149.60 L202.00 149.60 L202.25 149.59 L202.50 149.58 L202.75 149.58 L203.00 149.57 L203.25 149.55 L203.50 149.54 L203.75 149.53 L204.00 149.51 L204.25 149.49 L204.50 149.47 L204.75 149.45 L205.00 149.41 L205.25 149.38 L205.50 149.33 L205.75 149.28 L206.00 149.21 L206.25 149.12 L206.50 148.99 L206.75 148.78 L207.00 148.42 L207.25 147.74 L207.50 146.52 L207.75 144.49 L208.00 141.49 L208.25 137.68 L208.50 133.73 L208.75 130.92 L209.00 130.63 L209.25 133.03 L209.50 136.87 L209.75 140.78 L210.00 143.97 L210.25 146.19 L210.50 147.55 L210.75 148.31 L211.00 148.72 L211.25 148.95 L211.50 149.09 L211.75 149.19 L212.00 149.26 L212.25 149.32 L212.50 149.37 L212.75 149.40 L213.00 149.44 L213.25 149.46 L213.50 149.49 L213.75 149.50 L214.00 149.52 L214.25 149.54 L214.50 149.55 L214.75 149.56 L215.00 149.57 L215.25 149.58 L215.50 149.58 L215.75 149.59 L216.00 149.60 L216.25 149.60 L216.50 149.61 L216.75 149.61 L217.00 149.61 L217.25 149.62 L217.50 149.62 L217.75 149.62 L218.00 149.63 L218.25 149.63 L218.50 149.63 L218.75 149.63 L219.00 149.63 L219.25 149.63 L219.50 149.64 L219.75 149.64 L220.00 149.64 L220.25 149.64 L220.50 149.64 L220.75 149.64 L221.00 149.64 L221.25 149.64 L221.50 149.64 L221.75 149.64 L222.00 149.64 L222.25 149.64 L222.50 149.64 L222.75 149.64 L223.00 149.64 L223.25 149.64 L223.50 149.64 L223.75 149.64 L224.00 149.63 L224.25 149.63 L224.50 149.63 L224.75 149.63 L225.00 149.63 L225.25 149.63 L225.50 149.62 L225.75 149.62 L226.00 149.62 L226.25 149.61 L226.50 149.61 L226.75 149.60 L227.00 149.60 L227.25 149.59 L227.50 149.59 L227.75 149.58 L228.00 149.57 L228.25 149.56 L228.50 149.55 L228.75 149.54 L229.00 149.52 L229.25 149.51 L229.50 149.49 L229.75 149.46 L230.00 149.43 L230.25 149.40 L230.50 149.35 L230.75 149.30 L231.00 149.23 L231.25 149.13 L231.50 148.98 L231.75 148.72 L232.00 148.24 L232.25 147.35 L232.50 145.84 L232.75 143.56 L233.00 140.56 L233.25 137.31 L233.50 134.73 L233.75 134.03 L234.00 135.60 L234.25 138.59 L234.50 141.83 L234.75 144.57 L235.00 146.53 L235.25 147.76 L235.50 148.46 L235.75 148.84 L236.00 149.05 L236.25 149.17 L236.50 149.26 L236.75 149.32 L237.00 149.37 L237.25 149.41 L237.50 149.44 L237.75 149.46 L238.00 149.49 L238.25 149.50 L238.50 149.52 L238.75 149.53 L239.00 149.54 L239.25 149.55 L239.50 149.56 L239.75 149.57 L240.00 149.57 L240.25 149.58 L240.50 149.58 L240.75 149.59 L241.00 149.59 L241.25 149.59 L241.50 149.59 L241.75 149.59 L242.00 149.60 L242.25 149.60 L242.50 149.59 L242.75 149.59 L243.00 149.59 L243.25 149.59 L243.50 149.58 L243.75 149.58 L244.00 149.57 L244.25 149.56 L244.50 149.55 L244.75 149.54 L245.00 149.52 L245.25 149.49 L245.50 149.43 L245.75 149.33 L246.00 149.16 L246.25 148.86 L246.50 148.42 L246.75 147.86 L247.00 147.29 L247.25 146.87 L247.50 146.83 L247.75 147.17 L248.00 147.72 L248.25 148.28 L248.50 148.73 L248.75 149.05 L249.00 149.23 L249.25 149.33 L249.50 149.37 L249.75 149.39 L250.00 149.39 L250.25 149.37 L250.50 149.35 L250.75 149.32 L251.00 149.28 L251.25 149.22 L251.50 149.13 L251.75 149.00 L252.00 148.75 L252.25 148.28 L252.50 147.44 L252.75 146.04 L253.00 143.97 L253.25 141.34 L253.50 138.62 L253.75 136.67 L254.00 136.46 L254.25 138.11 L254.50 140.75 L254.75 143.43 L255.00 145.61 L255.25 147.13 L255.50 148.04 L255.75 148.54 L256.00 148.78 L256.25 148.87 L256.50 148.84 L256.75 148.68 L257.00 148.31 L257.25 147.65 L257.50 146.66 L257.75 145.38 L258.00 144.06 L258.25 143.11 L258.50 143.03 L258.75 143.87 L259.00 145.19 L259.25 146.54 L259.50 147.64 L259.75 148.40 L260.00 148.88 L260.25 149.14 L260.50 149.29 L260.75 149.37 L261.00 149.43 L261.25 149.46 L261.50 149.49 L261.75 149.51 L262.00 149.53 L262.25 149.55 L262.50 149.56 L262.75 149.57 L263.00 149.58 L263.25 149.59 L263.50 149.60 L263.75 149.61 L264.00 149.61 L264.25 149.62 L264.50 149.62 L264.75 149.62 L265.00 149.63 L265.25 149.63 L265.50 149.63 L265.75 149.64 L266.00 149.64 L266.25 149.64 L266.50 149.64 L266.75 149.64 L267.00 149.65 L267.25 149.65 L267.50 149.65 L267.75 149.65 L268.00 149.65 L268.25 149.65 L268.50 149.65 L268.75 149.64 L269.00 149.64 L269.25 149.64 L269.50 149.64 L269.75 149.63 L270.00 149.62 L270.25 149.59 L270.50 149.55 L270.75 149.49 L271.00 149.39 L271.25 149.25 L271.50 149.09 L271.75 148.93 L272.00 148.81 L272.25 148.78 L272.50 148.85 L272.75 149.00 L273.00 149.16 L273.25 149.32 L273.50 149.44 L273.75 149.52 L274.00 149.58 L274.25 149.61 L274.50 149.63 L274.75 149.64 L275.00 149.65 L275.25 149.65 L275.50 149.66 L275.75 149.66 L276.00 149.66 L276.25 149.67 L276.50 149.67 L276.75 149.67 L277.00 149.67 L277.25 149.67 L277.50 149.67 L277.75 149.67 L278.00 149.67 L278.25 149.68 L278.50 149.68 L278.75 149.68 L279.00 149.68 L279.25 149.68 L279.50 149.68 L279.75 149.68 L280.00 149.68 L280.25 149.68 L280.50 149.68 L280.75 149.68 L281.00 149.68 L281.25 149.68 L281.50 149.68 L281.75 149.68 L282.00 149.68 L282.25 149.68 L282.50 149.68 L282.75 149.68 L283.00 149.67 L283.25 149.67 L283.50 149.67 L283.75 149.67 L284.00 149.67 L284.25 149.67 L284.50 149.67 L284.75 149.66 L285.00 149.66 L285.25 149.66 L285.50 149.65 L285.75 149.65 L286.00 149.64 L286.25 149.64 L286.50 149.63 L286.75 149.62 L287.00 149.60 L287.25 149.56 L287.50 149.50 L287.75 149.40 L288.00 149.24 L288.25 149.01 L288.50 148.69 L288.75 148.33 L289.00 147.97 L289.25 147.74 L289.50 147.71 L289.75 147.91 L290.00 148.25 L290.25 148.62 L290.50 148.95 L290.75 149.20 L291.00 149.38 L291.25 149.49 L291.50 149.55 L291.75 149.59 L292.00 149.61 L292.25 149.63 L292.50 149.64 L292.75 149.65 L293.00 149.65 L293.25 149.66 L293.50 149.66 L293.75 149.66 L294.00 149.67 L294.25 149.67 L294.50 149.67 L294.75 149.67 L295.00 149.68 L295.25 149.68 L295.50 149.68 L295.75 149.68 L296.00 149.68 L296.25 149.68 L296.50 149.68 L296.75 149.68 L297.00 149.68 L297.25 149.69 L297.50 149.69 L297.75 149.69 L298.00 149.69 L298.25 149.69 L298.50 149.69 L298.75 149.69 L299.00 149.69 L299.25 149.69 L299.50 149.69 L299.75 149.69 L300.00 149.69 L300.25 149.69 L300.50 149.69 L300.75 149.69 L301.00 149.69 L301.25 149.69 L301.50 149.69 L301.75 149.69"/>
<path class="c" stroke="#2FBA87" d="M64.00 90.99 L64.25 90.99 L64.50 90.99 L64.75 90.99 L65.00 90.99 L65.25 90.99 L65.50 90.99 L65.75 90.99 L66.00 90.99 L66.25 90.99 L66.50 90.99 L66.75 90.99 L67.00 90.99 L67.25 90.99 L67.50 90.99 L67.75 90.99 L68.00 90.99 L68.25 90.99 L68.50 90.99 L68.75 90.99 L69.00 90.99 L69.25 90.99 L69.50 90.99 L69.75 90.99 L70.00 90.99 L70.25 90.99 L70.50 90.99 L70.75 90.99 L71.00 90.99 L71.25 90.99 L71.50 90.99 L71.75 90.99 L72.00 90.99 L72.25 90.99 L72.50 90.99 L72.75 90.99 L73.00 90.99 L73.25 90.99 L73.50 90.99 L73.75 90.99 L74.00 90.99 L74.25 90.99 L74.50 90.99 L74.75 90.99 L75.00 90.99 L75.25 90.99 L75.50 90.99 L75.75 90.99 L76.00 90.99 L76.25 90.99 L76.50 90.99 L76.75 90.99 L77.00 90.99 L77.25 90.99 L77.50 90.99 L77.75 90.99 L78.00 90.99 L78.25 90.99 L78.50 90.99 L78.75 90.99 L79.00 90.99 L79.25 90.99 L79.50 90.99 L79.75 90.99 L80.00 90.99 L80.25 90.99 L80.50 90.99 L80.75 90.99 L81.00 90.98 L81.25 90.98 L81.50 90.98 L81.75 90.98 L82.00 90.98 L82.25 90.98 L82.50 90.98 L82.75 90.98 L83.00 90.98 L83.25 90.98 L83.50 90.98 L83.75 90.98 L84.00 90.98 L84.25 90.98 L84.50 90.98 L84.75 90.98 L85.00 90.98 L85.25 90.98 L85.50 90.98 L85.75 90.98 L86.00 90.98 L86.25 90.98 L86.50 90.98 L86.75 90.98 L87.00 90.98 L87.25 90.98 L87.50 90.98 L87.75 90.98 L88.00 90.98 L88.25 90.98 L88.50 90.98 L88.75 90.98 L89.00 90.98 L89.25 90.97 L89.50 90.97 L89.75 90.97 L90.00 90.97 L90.25 90.97 L90.50 90.97 L90.75 90.97 L91.00 90.97 L91.25 90.97 L91.50 90.97 L91.75 90.97 L92.00 90.97 L92.25 90.97 L92.50 90.97 L92.75 90.97 L93.00 90.97 L93.25 90.96 L93.50 90.96 L93.75 90.96 L94.00 90.96 L94.25 90.96 L94.50 90.96 L94.75 90.96 L95.00 90.96 L95.25 90.96 L95.50 90.96 L95.75 90.96 L96.00 90.95 L96.25 90.95 L96.50 90.95 L96.75 90.95 L97.00 90.95 L97.25 90.95 L97.50 90.95 L97.75 90.94 L98.00 90.94 L98.25 90.94 L98.50 90.94 L98.75 90.94 L99.00 90.93 L99.25 90.93 L99.50 90.93 L99.75 90.93 L100.00 90.92 L100.25 90.92 L100.50 90.92 L100.75 90.91 L101.00 90.91 L101.25 90.91 L101.50 90.90 L101.75 90.90 L102.00 90.89 L102.25 90.89 L102.50 90.88 L102.75 90.88 L103.00 90.87 L103.25 90.86 L103.50 90.85 L103.75 90.84 L104.00 90.83 L104.25 90.82 L104.50 90.81 L104.75 90.80 L105.00 90.78 L105.25 90.76 L105.50 90.74 L105.75 90.72 L106.00 90.69 L106.25 90.66 L106.50 90.62 L106.75 90.58 L107.00 90.52 L107.25 90.46 L107.50 90.38 L107.75 90.28 L108.00 90.15 L108.25 89.96 L108.50 89.65 L108.75 89.09 L109.00 88.06 L109.25 86.22 L109.50 83.23 L109.75 78.93 L110.00 73.66 L110.25 68.49 L110.50 65.25 L110.75 65.64 L111.00 69.43 L111.25 74.74 L111.50 79.87 L111.75 83.91 L112.00 86.64 L112.25 88.28 L112.50 89.19 L112.75 89.67 L113.00 89.94 L113.25 90.11 L113.50 90.23 L113.75 90.32 L114.00 90.38 L114.25 90.43 L114.50 90.48 L114.75 90.51 L115.00 90.53 L115.25 90.55 L115.50 90.56 L115.75 90.57 L116.00 90.57 L116.25 90.57 L116.50 90.56 L116.75 90.55 L117.00 90.53 L117.25 90.50 L117.50 90.47 L117.75 90.43 L118.00 90.38 L118.25 90.31 L118.50 90.22 L118.75 90.10 L119.00 89.90 L119.25 89.57 L119.50 88.95 L119.75 87.81 L120.00 85.89 L120.25 82.97 L120.50 79.15 L120.75 74.99 L121.00 71.70 L121.25 70.79 L121.50 72.78 L121.75 76.58 L122.00 80.68 L122.25 84.15 L122.50 86.62 L122.75 88.17 L123.00 89.03 L123.25 89.47 L123.50 89.69 L123.75 89.80 L124.00 89.85 L124.25 89.85 L124.50 89.83 L124.75 89.77 L125.00 89.68 L125.25 89.55 L125.50 89.37 L125.75 89.10 L126.00 88.66 L126.25 87.87 L126.50 86.41 L126.75 83.71 L127.00 79.12 L127.25 72.15 L127.50 63.00 L127.75 53.06 L128.00 45.19 L128.25 43.04 L128.50 47.86 L128.75 57.01 L129.00 66.91 L129.25 75.29 L129.50 81.30 L129.75 85.07 L130.00 87.22 L130.25 88.38 L130.50 89.02 L130.75 89.40 L131.00 89.66 L131.25 89.86 L131.50 90.01 L131.75 90.13 L132.00 90.23 L132.25 90.32 L132.50 90.39 L132.75 90.45 L133.00 90.50 L133.25 90.54 L133.50 90.58 L133.75 90.62 L134.00 90.65 L134.25 90.67 L134.50 90.69 L134.75 90.72 L135.00 90.73 L135.25 90.75 L135.50 90.77 L135.75 90.78 L136.00 90.79 L136.25 90.80 L136.50 90.81 L136.75 90.82 L137.00 90.83 L137.25 90.84 L137.50 90.85 L137.75 90.85 L138.00 90.86 L138.25 90.87 L138.50 90.87 L138.75 90.88 L139.00 90.88 L139.25 90.89 L139.50 90.89 L139.75 90.90 L140.00 90.90 L140.25 90.90 L140.50 90.91 L140.75 90.91 L141.00 90.91 L141.25 90.92 L141.50 90.92 L141.75 90.92 L142.00 90.92 L142.25 90.93 L142.50 90.93 L142.75 90.93 L143.00 90.93 L143.25 90.93 L143.50 90.93 L143.75 90.94 L144.00 90.94 L144.25 90.94 L144.50 90.94 L144.75 90.94 L145.00 90.94 L145.25 90.94 L145.50 90.95 L145.75 90.95 L146.00 90.95 L146.25 90.95 L146.50 90.95 L146.75 90.95 L147.00 90.95 L147.25 90.95 L147.50 90.95 L147.75 90.95 L148.00 90.96 L148.25 90.96 L148.50 90.96 L148.75 90.96 L149.00 90.96 L149.25 90.96 L149.50 90.96 L149.75 90.96 L150.00 90.96 L150.25 90.96 L150.50 90.96 L150.75 90.96 L151.00 90.96 L151.25 90.96 L151.50 90.96 L151.75 90.96 L152.00 90.96 L152.25 90.96 L152.50 90.97 L152.75 90.97 L153.00 90.97 L153.25 90.97 L153.50 90.97 L153.75 90.97 L154.00 90.97 L154.25 90.97 L154.50 90.97 L154.75 90.97 L155.00 90.97 L155.25 90.97 L155.50 90.97 L155.75 90.97 L156.00 90.97 L156.25 90.97 L156.50 90.97 L156.75 90.97 L157.00 90.97 L157.25 90.97 L157.50 90.97 L157.75 90.97 L158.00 90.97 L158.25 90.97 L158.50 90.97 L158.75 90.97 L159.00 90.97 L159.25 90.97 L159.50 90.97 L159.75 90.97 L160.00 90.97 L160.25 90.96 L160.50 90.96 L160.75 90.96 L161.00 90.96 L161.25 90.96 L161.50 90.96 L161.75 90.96 L162.00 90.96 L162.25 90.96 L162.50 90.96 L162.75 90.96 L163.00 90.96 L163.25 90.96 L163.50 90.95 L163.75 90.95 L164.00 90.95 L164.25 90.95 L164.50 90.95 L164.75 90.94 L165.00 90.94 L165.25 90.94 L165.50 90.94 L165.75 90.93 L166.00 90.93 L166.25 90.93 L166.50 90.92 L166.75 90.92 L167.00 90.91 L167.25 90.91 L167.50 90.90 L167.75 90.89 L168.00 90.88 L168.25 90.87 L168.50 90.86 L168.75 90.84 L169.00 90.82 L169.25 90.80 L169.50 90.78 L169.75 90.75 L170.00 90.71 L170.25 90.66 L170.50 90.59 L170.75 90.48 L171.00 90.30 L171.25 89.98 L171.50 89.37 L171.75 88.33 L172.00 86.71 L172.25 84.51 L172.50 82.02 L172.75 79.87 L173.00 78.99 L173.25 79.87 L173.50 82.02 L173.75 84.51 L174.00 86.71 L174.25 88.33 L174.50 89.37 L174.75 89.98 L175.00 90.30 L175.25 90.48 L175.50 90.59 L175.75 90.66 L176.00 90.71 L176.25 90.75 L176.50 90.78 L176.75 90.80 L177.00 90.82 L177.25 90.84 L177.50 90.86 L177.75 90.87 L178.00 90.88 L178.25 90.89 L178.50 90.90 L178.75 90.91 L179.00 90.91 L179.25 90.92 L179.50 90.92 L179.75 90.93 L180.00 90.93 L180.25 90.94 L180.50 90.94 L180.75 90.94 L181.00 90.94 L181.25 90.95 L181.50 90.95 L181.75 90.95 L182.00 90.95 L182.25 90.95 L182.50 90.96 L182.75 90.96 L183.00 90.96 L183.25 90.96 L183.50 90.96 L183.75 90.96 L184.00 90.96 L184.25 90.96 L184.50 90.96 L184.75 90.97 L185.00 90.97 L185.25 90.97 L185.50 90.97 L185.75 90.97 L186.00 90.97 L186.25 90.97 L186.50 90.97 L186.75 90.97 L187.00 90.97 L187.25 90.97 L187.50 90.97 L187.75 90.97 L188.00 90.97 L188.25 90.97 L188.50 90.97 L188.75 90.97 L189.00 90.97 L189.25 90.97 L189.50 90.97 L189.75 90.97 L190.00 90.97 L190.25 90.97 L190.50 90.97 L190.75 90.97 L191.00 90.97 L191.25 90.97 L191.50 90.97 L191.75 90.97 L192.00 90.97 L192.25 90.97 L192.50 90.97 L192.75 90.97 L193.00 90.97 L193.25 90.97 L193.50 90.97 L193.75 90.97 L194.00 90.97 L194.25 90.97 L194.50 90.97 L194.75 90.97 L195.00 90.96 L195.25 90.96 L195.50 90.96 L195.75 90.96 L196.00 90.96 L196.25 90.96 L196.50 90.96 L196.75 90.96 L197.00 90.96 L197.25 90.96 L197.50 90.96 L197.75 90.95 L198.00 90.95 L198.25 90.95 L198.50 90.95 L198.75 90.95 L199.00 90.95 L199.25 90.94 L199.50 90.94 L199.75 90.94 L200.00 90.94 L200.25 90.93 L200.50 90.93 L200.75 90.93 L201.00 90.92 L201.25 90.92 L201.50 90.91 L201.75 90.91 L202.00 90.90 L202.25 90.90 L202.50 90.89 L202.75 90.88 L203.00 90.87 L203.25 90.86 L203.50 90.85 L203.75 90.84 L204.00 90.82 L204.25 90.80 L204.50 90.78 L204.75 90.76 L205.00 90.73 L205.25 90.70 L205.50 90.66 L205.75 90.61 L206.00 90.54 L206.25 90.46 L206.50 90.36 L206.75 90.19 L207.00 89.91 L207.25 89.39 L207.50 88.43 L207.75 86.78 L208.00 84.21 L208.25 80.73 L208.50 76.78 L208.75 73.39 L209.00 71.99 L209.25 73.39 L209.50 76.78 L209.75 80.73 L210.00 84.21 L210.25 86.78 L210.50 88.43 L210.75 89.39 L211.00 89.91 L211.25 90.19 L211.50 90.35 L211.75 90.46 L212.00 90.54 L212.25 90.60 L212.50 90.65 L212.75 90.69 L213.00 90.73 L213.25 90.76 L213.50 90.78 L213.75 90.80 L214.00 90.82 L214.25 90.83 L214.50 90.84 L214.75 90.86 L215.00 90.87 L215.25 90.87 L215.50 90.88 L215.75 90.89 L216.00 90.89 L216.25 90.90 L216.50 90.90 L216.75 90.91 L217.00 90.91 L217.25 90.92 L217.50 90.92 L217.75 90.92 L218.00 90.93 L218.25 90.93 L218.50 90.93 L218.75 90.93 L219.00 90.93 L219.25 90.93 L219.50 90.94 L219.75 90.94 L220.00 90.94 L220.25 90.94 L220.50 90.94 L220.75 90.94 L221.00 90.94 L221.25 90.94 L221.50 90.94 L221.75 90.94 L222.00 90.94 L222.25 90.94 L222.50 90.94 L222.75 90.94 L223.00 90.94 L223.25 90.94 L223.50 90.94 L223.75 90.94 L224.00 90.93 L224.25 90.93 L224.50 90.93 L224.75 90.93 L225.00 90.93 L225.25 90.93 L225.50 90.92 L225.75 90.92 L226.00 90.92 L226.25 90.91 L226.50 90.91 L226.75 90.91 L227.00 90.90 L227.25 90.90 L227.50 90.89 L227.75 90.88 L228.00 90.88 L228.25 90.87 L228.50 90.86 L228.75 90.85 L229.00 90.83 L229.25 90.82 L229.50 90.80 L229.75 90.78 L230.00 90.76 L230.25 90.73 L230.50 90.69 L230.75 90.65 L231.00 90.60 L231.25 90.54 L231.50 90.45 L231.75 90.32 L232.00 90.12 L232.25 89.75 L232.50 89.07 L232.75 87.86 L233.00 85.88 L233.25 83.04 L233.50 79.55 L233.75 76.13 L234.00 73.99 L234.25 74.25 L234.50 76.76 L234.75 80.27 L235.00 83.67 L235.25 86.34 L235.50 88.15 L235.75 89.24 L236.00 89.84 L236.25 90.17 L236.50 90.35 L236.75 90.46 L237.00 90.54 L237.25 90.61 L237.50 90.65 L237.75 90.69 L238.00 90.73 L238.25 90.75 L238.50 90.78 L238.75 90.79 L239.00 90.81 L239.25 90.82 L239.50 90.83 L239.75 90.84 L240.00 90.85 L240.25 90.86 L240.50 90.87 L240.75 90.87 L241.00 90.88 L241.25 90.88 L241.50 90.88 L241.75 90.88 L242.00 90.88 L242.25 90.89 L242.50 90.89 L242.75 90.89 L243.00 90.88 L243.25 90.88 L243.50 90.88 L243.75 90.87 L244.00 90.87 L244.25 90.86 L244.50 90.85 L244.75 90.84 L245.00 90.83 L245.25 90.81 L245.50 90.78 L245.75 90.73 L246.00 90.63 L246.25 90.46 L246.50 90.17 L246.75 89.73 L247.00 89.16 L247.25 88.53 L247.50 88.03 L247.75 87.89 L248.00 88.19 L248.25 88.75 L248.50 89.36 L248.75 89.88 L249.00 90.24 L249.25 90.46 L249.50 90.58 L249.75 90.64 L250.00 90.66 L250.25 90.66 L250.50 90.65 L250.75 90.62 L251.00 90.59 L251.25 90.54 L251.50 90.48 L251.75 90.38 L252.00 90.21 L252.25 89.92 L252.50 89.36 L252.75 88.37 L253.00 86.76 L253.25 84.44 L253.50 81.60 L253.75 78.82 L254.00 77.06 L254.25 77.27 L254.50 79.30 L254.75 82.15 L255.00 84.90 L255.25 87.06 L255.50 88.51 L255.75 89.36 L256.00 89.81 L256.25 90.00 L256.50 90.02 L256.75 89.87 L257.00 89.50 L257.25 88.82 L257.50 87.79 L257.75 86.46 L258.00 85.08 L258.25 84.10 L258.50 84.01 L258.75 84.89 L259.00 86.27 L259.25 87.68 L259.50 88.83 L259.75 89.64 L260.00 90.13 L260.25 90.41 L260.50 90.56 L260.75 90.65 L261.00 90.71 L261.25 90.75 L261.50 90.78 L261.75 90.80 L262.00 90.82 L262.25 90.84 L262.50 90.85 L262.75 90.86 L263.00 90.87 L263.25 90.88 L263.50 90.89 L263.75 90.90 L264.00 90.90 L264.25 90.91 L264.50 90.91 L264.75 90.92 L265.00 90.92 L265.25 90.92 L265.50 90.93 L265.75 90.93 L266.00 90.93 L266.25 90.93 L266.50 90.94 L266.75 90.94 L267.00 90.94 L267.25 90.94 L267.50 90.94 L267.75 90.94 L268.00 90.94 L268.25 90.94 L268.50 90.94 L268.75 90.93 L269.00 90.93 L269.25 90.93 L269.50 90.92 L269.75 90.91 L270.00 90.89 L270.25 90.86 L270.50 90.80 L270.75 90.70 L271.00 90.56 L271.25 90.37 L271.50 90.13 L271.75 89.90 L272.00 89.72 L272.25 89.68 L272.50 89.78 L272.75 89.99 L273.00 90.23 L273.25 90.45 L273.50 90.63 L273.75 90.75 L274.00 90.83 L274.25 90.88 L274.50 90.91 L274.75 90.92 L275.00 90.94 L275.25 90.94 L275.50 90.95 L275.75 90.95 L276.00 90.96 L276.25 90.96 L276.50 90.96 L276.75 90.96 L277.00 90.96 L277.25 90.97 L277.50 90.97 L277.75 90.97 L278.00 90.97 L278.25 90.97 L278.50 90.97 L278.75 90.97 L279.00 90.97 L279.25 90.97 L279.50 90.97 L279.75 90.97 L280.00 90.97 L280.25 90.97 L280.50 90.97 L280.75 90.97 L281.00 90.97 L281.25 90.97 L281.50 90.97 L281.75 90.97 L282.00 90.97 L282.25 90.97 L282.50 90.97 L282.75 90.97 L283.00 90.97 L283.25 90.97 L283.50 90.97 L283.75 90.97 L284.00 90.97 L284.25 90.96 L284.50 90.96 L284.75 90.96 L285.00 90.96 L285.25 90.95 L285.50 90.95 L285.75 90.95 L286.00 90.94 L286.25 90.93 L286.50 90.92 L286.75 90.91 L287.00 90.90 L287.25 90.87 L287.50 90.82 L287.75 90.75 L288.00 90.61 L288.25 90.40 L288.50 90.10 L288.75 89.71 L289.00 89.26 L289.25 88.86 L289.50 88.61 L289.75 88.64 L290.00 88.93 L290.25 89.35 L290.50 89.79 L290.75 90.17 L291.00 90.45 L291.25 90.65 L291.50 90.77 L291.75 90.84 L292.00 90.88 L292.25 90.90 L292.50 90.92 L292.75 90.93 L293.00 90.94 L293.25 90.94 L293.50 90.95 L293.75 90.96 L294.00 90.96 L294.25 90.96 L294.50 90.97 L294.75 90.97 L295.00 90.97 L295.25 90.97 L295.50 90.97 L295.75 90.98 L296.00 90.98 L296.25 90.98 L296.50 90.98 L296.75 90.98 L297.00 90.98 L297.25 90.98 L297.50 90.98 L297.75 90.98 L298.00 90.98 L298.25 90.99 L298.50 90.99 L298.75 90.99 L299.00 90.99 L299.25 90.99 L299.50 90.99 L299.75 90.99 L300.00 90.99 L300.25 90.99 L300.50 90.99 L300.75 90.99 L301.00 90.99 L301.25 90.99 L301.50 90.99 L301.75 90.99"/>
<path class="c" stroke="#636363" d="M412.40 219.01 L412.65 219.03 L412.90 219.05 L413.15 219.07 L413.40 219.09 L413.65 219.10 L413.90 219.06 L414.15 219.01 L414.40 218.97 L414.65 218.92 L414.90 218.94 L415.15 219.05 L415.40 219.16 L415.65 219.27 L415.90 219.38 L416.15 219.37 L416.40 219.29 L416.65 219.21 L416.90 219.12 L417.15 219.04 L417.40 219.03 L417.65 219.04 L417.90 219.05 L418.15 219.07 L418.40 219.08 L418.65 219.09 L418.90 219.11 L419.15 219.12 L419.40 219.14 L419.65 219.16 L419.90 219.20 L420.15 219.24 L420.40 219.29 L420.65 219.33 L420.90 219.33 L421.15 219.25 L421.40 219.18 L421.65 219.10 L421.90 219.02 L422.15 219.03 L422.40 219.10 L422.65 219.16 L422.90 219.22 L423.15 219.28 L423.40 219.23 L423.65 219.14 L423.90 219.04 L424.15 218.94 L424.40 218.83 L424.65 218.77 L424.90 218.70 L425.15 218.63 L425.40 218.55 L425.65 218.48 L425.90 218.41 L426.15 218.36 L426.40 218.34 L426.65 218.35 L426.90 218.36 L427.15 218.35 L427.40 218.35 L427.65 218.35 L427.90 218.35 L428.15 218.42 L428.40 218.54 L428.65 218.65 L428.90 218.75 L429.15 218.84 L429.40 218.84 L429.65 218.81 L429.90 218.79 L430.15 218.75 L430.40 218.72 L430.65 218.69 L430.90 218.67 L431.15 218.64 L431.40 218.61 L431.65 218.61 L431.90 218.73 L432.15 218.84 L432.40 218.96 L432.65 219.07 L432.90 219.10 L433.15 219.01 L433.40 218.91 L433.65 218.82 L433.90 218.72 L434.15 218.71 L434.40 218.75 L434.65 218.79 L434.90 218.83 L435.15 218.87 L435.40 218.90 L435.65 218.94 L435.90 218.97 L436.15 219.00 L436.40 219.03 L436.65 219.00 L436.90 218.97 L437.15 218.94 L437.40 218.91 L437.65 218.87 L437.90 218.83 L438.15 218.78 L438.40 218.72 L438.65 218.66 L438.90 218.62 L439.15 218.60 L439.40 218.58 L439.65 218.54 L439.90 218.50 L440.15 218.43 L440.40 218.35 L440.65 218.28 L440.90 218.22 L441.15 218.17 L441.40 218.18 L441.65 218.23 L441.90 218.30 L442.15 218.39 L442.40 218.49 L442.65 218.46 L442.90 218.44 L443.15 218.40 L443.40 218.35 L443.65 218.33 L443.90 218.43 L444.15 218.52 L444.40 218.60 L444.65 218.68 L444.90 218.70 L445.15 218.65 L445.40 218.60 L445.65 218.55 L445.90 218.49 L446.15 218.47 L446.40 218.46 L446.65 218.44 L446.90 218.43 L447.15 218.40 L447.40 218.42 L447.65 218.44 L447.90 218.44 L448.15 218.41 L448.40 218.33 L448.65 218.07 L448.90 217.73 L449.15 217.31 L449.40 216.79 L449.65 216.20 L449.90 215.60 L450.15 214.99 L450.40 214.45 L450.65 214.07 L450.90 213.94 L451.15 214.11 L451.40 214.51 L451.65 215.08 L451.90 215.71 L452.15 216.34 L452.40 216.91 L452.65 217.40 L452.90 217.80 L453.15 218.11 L453.40 218.26 L453.65 218.34 L453.90 218.37 L454.15 218.36 L454.40 218.33 L454.65 218.38 L454.90 218.42 L455.15 218.45 L455.40 218.48 L455.65 218.50 L455.90 218.48 L456.15 218.46 L456.40 218.44 L456.65 218.41 L456.90 218.39 L457.15 218.37 L457.40 218.35 L457.65 218.31 L457.90 218.27 L458.15 218.22 L458.40 218.15 L458.65 218.03 L458.90 217.86 L459.15 217.62 L459.40 217.24 L459.65 216.76 L459.90 216.20 L460.15 215.58 L460.40 214.94 L460.65 214.40 L460.90 214.00 L461.15 213.81 L461.40 213.89 L461.65 214.21 L461.90 214.68 L462.15 215.24 L462.40 215.80 L462.65 216.32 L462.90 216.79 L463.15 217.22 L463.40 217.56 L463.65 217.81 L463.90 218.00 L464.15 218.08 L464.40 218.07 L464.65 218.04 L464.90 217.97 L465.15 217.87 L465.40 217.79 L465.65 217.66 L465.90 217.47 L466.15 217.19 L466.40 216.80 L466.65 216.27 L466.90 215.61 L467.15 214.83 L467.40 213.98 L467.65 213.09 L467.90 212.21 L468.15 211.52 L468.40 211.15 L468.65 211.13 L468.90 211.47 L469.15 212.09 L469.40 212.77 L469.65 213.41 L469.90 213.93 L470.15 214.28 L470.40 214.40 L470.65 214.22 L470.90 213.60 L471.15 212.30 L471.40 209.84 L471.65 205.74 L471.90 199.48 L472.15 190.90 L472.40 180.58 L472.65 170.36 L472.90 163.87 L473.15 164.56 L473.40 171.94 L473.65 182.27 L473.90 192.35 L474.15 200.51 L474.40 206.35 L474.65 210.16 L474.90 212.51 L475.15 213.95 L475.40 214.85 L475.65 215.47 L475.90 215.91 L476.15 216.20 L476.40 216.38 L476.65 216.51 L476.90 216.60 L477.15 216.67 L477.40 216.77 L477.65 216.86 L477.90 216.94 L478.15 217.00 L478.40 217.04 L478.65 217.02 L478.90 216.97 L479.15 216.90 L479.40 216.80 L479.65 216.68 L479.90 216.60 L480.15 216.46 L480.40 216.25 L480.65 215.96 L480.90 215.55 L481.15 215.02 L481.40 214.43 L481.65 213.79 L481.90 213.15 L482.15 212.55 L482.40 212.05 L482.65 211.70 L482.90 211.51 L483.15 211.44 L483.40 211.30 L483.65 211.00 L483.90 210.32 L484.15 208.89 L484.40 206.19 L484.65 201.83 L484.90 195.18 L485.15 186.30 L485.40 176.23 L485.65 167.47 L485.90 163.85 L486.15 167.62 L486.40 176.62 L486.65 186.98 L486.90 196.16 L487.15 203.12 L487.40 207.85 L487.65 210.77 L487.90 212.46 L488.15 213.50 L488.40 214.21 L488.65 214.70 L488.90 215.07 L489.15 215.39 L489.40 215.61 L489.65 215.79 L489.90 215.98 L490.15 216.18 L490.40 216.38 L490.65 216.46 L490.90 216.55 L491.15 216.63 L491.40 216.70 L491.65 216.79 L491.90 217.04 L492.15 217.26 L492.40 217.46 L492.65 217.62 L492.90 217.68 L493.15 217.58 L493.40 217.44 L493.65 217.24 L493.90 216.97 L494.15 216.69 L494.40 216.36 L494.65 215.96 L494.90 215.49 L495.15 214.98 L495.40 214.52 L495.65 214.13 L495.90 213.87 L496.15 213.79 L496.40 213.94 L496.65 214.20 L496.90 214.61 L497.15 215.11 L497.40 215.63 L497.65 216.11 L497.90 216.48 L498.15 216.78 L498.40 217.00 L498.65 217.15 L498.90 217.29 L499.15 217.46 L499.40 217.60 L499.65 217.70 L499.90 217.79 L500.15 217.84 L500.40 217.88 L500.65 217.91 L500.90 217.94 L501.15 217.97 L501.40 217.96 L501.65 217.94 L501.90 217.92 L502.15 217.90 L502.40 217.88 L502.65 217.87 L502.90 217.85 L503.15 217.83 L503.40 217.81 L503.65 217.80 L503.90 217.82 L504.15 217.84 L504.40 217.86 L504.65 217.88 L504.90 217.91 L505.15 217.97 L505.40 218.03 L505.65 218.09 L505.90 218.15 L506.15 218.11 L506.40 218.01 L506.65 217.90 L506.90 217.80 L507.15 217.69 L507.40 217.73 L507.65 217.81 L507.90 217.88 L508.15 217.96 L508.40 218.03 L508.65 218.01 L508.90 217.99 L509.15 217.97 L509.40 217.95 L509.65 217.92 L509.90 217.85 L510.15 217.79 L510.40 217.72 L510.65 217.65 L510.90 217.62 L511.15 217.66 L511.40 217.70 L511.65 217.73 L511.90 217.77 L512.15 217.80 L512.40 217.83 L512.65 217.85 L512.90 217.87 L513.15 217.88 L513.40 217.82 L513.65 217.74 L513.90 217.63 L514.15 217.49 L514.40 217.31 L514.65 217.03 L514.90 216.70 L515.15 216.32 L515.40 215.91 L515.65 215.52 L515.90 215.30 L516.15 215.14 L516.40 215.09 L516.65 215.17 L516.90 215.33 L517.15 215.53 L517.40 215.81 L517.65 216.12 L517.90 216.44 L518.15 216.77 L518.40 217.08 L518.65 217.33 L518.90 217.54 L519.15 217.70 L519.40 217.69 L519.65 217.63 L519.90 217.54 L520.15 217.43 L520.40 217.31 L520.65 217.33 L520.90 217.34 L521.15 217.35 L521.40 217.35 L521.65 217.32 L521.90 217.24 L522.15 217.15 L522.40 217.03 L522.65 216.87 L522.90 216.70 L523.15 216.51 L523.40 216.17 L523.65 215.63 L523.90 214.83 L524.15 213.62 L524.40 212.05 L524.65 210.24 L524.90 208.33 L525.15 206.52 L525.40 205.16 L525.65 204.52 L525.90 204.77 L526.15 205.83 L526.40 207.42 L526.65 209.29 L526.90 211.13 L527.15 212.77 L527.40 214.14 L527.65 215.22 L527.90 216.04 L528.15 216.63 L528.40 217.05 L528.65 217.36 L528.90 217.55 L529.15 217.64 L529.40 217.70 L529.65 217.74 L529.90 217.77 L530.15 217.75 L530.40 217.70 L530.65 217.64 L530.90 217.58 L531.15 217.52 L531.40 217.51 L531.65 217.50 L531.90 217.50 L532.15 217.50 L532.40 217.49 L532.65 217.61 L532.90 217.73 L533.15 217.85 L533.40 217.96 L533.65 218.05 L533.90 218.00 L534.15 217.95 L534.40 217.91 L534.65 217.86 L534.90 217.84 L535.15 217.86 L535.40 217.88 L535.65 217.89 L535.90 217.91 L536.15 217.87 L536.40 217.78 L536.65 217.69 L536.90 217.60 L537.15 217.50 L537.40 217.48 L537.65 217.47 L537.90 217.46 L538.15 217.45 L538.40 217.44 L538.65 217.53 L538.90 217.62 L539.15 217.70 L539.40 217.78 L539.65 217.84 L539.90 217.79 L540.15 217.73 L540.40 217.67 L540.65 217.61 L540.90 217.53 L541.15 217.43 L541.40 217.31 L541.65 217.15 L541.90 216.96 L542.15 216.82 L542.40 216.69 L542.65 216.49 L542.90 216.23 L543.15 215.90 L543.40 215.39 L543.65 214.84 L543.90 214.34 L544.15 213.94 L544.40 213.70 L544.65 213.75 L544.90 213.99 L545.15 214.38 L545.40 214.86 L545.65 215.34 L545.90 215.70 L546.15 216.00 L546.40 216.22 L546.65 216.36 L546.90 216.49 L547.15 216.68 L547.40 216.80 L547.65 216.89 L547.90 216.96 L548.15 216.90 L548.40 216.79 L548.65 216.72 L548.90 216.70 L549.15 216.71 L549.40 216.91 L549.65 217.15 L549.90 217.38 L550.15 217.59 L550.40 217.78 L550.65 217.77 L550.90 217.75 L551.15 217.72 L551.40 217.68 L551.65 217.64 L551.90 217.63 L552.15 217.62 L552.40 217.61 L552.65 217.60 L552.90 217.60 L553.15 217.63 L553.40 217.67 L553.65 217.70 L553.90 217.73 L554.15 217.77 L554.40 217.83 L554.65 217.88 L554.90 217.93 L555.15 217.99 L555.40 217.92 L555.65 217.82 L555.90 217.72 L556.15 217.62 L556.40 217.52 L556.65 217.49 L556.90 217.46 L557.15 217.44 L557.40 217.41 L557.65 217.40 L557.90 217.44 L558.15 217.49 L558.40 217.54 L558.65 217.58 L558.90 217.58 L559.15 217.52 L559.40 217.45 L559.65 217.38 L559.90 217.30 L560.15 217.21 L560.40 217.12 L560.65 216.98 L560.90 216.79 L561.15 216.53 L561.40 216.19 L561.65 215.74 L561.90 215.17 L562.15 214.49 L562.40 213.72 L562.65 212.89 L562.90 212.11 L563.15 211.50 L563.40 211.16 L563.65 211.19 L563.90 211.59 L564.15 212.25 L564.40 213.05 L564.65 213.88 L564.90 214.67 L565.15 215.35 L565.40 215.91 L565.65 216.36 L565.90 216.69 L566.15 216.92 L566.40 217.08 L566.65 217.18 L566.90 217.25 L567.15 217.30 L567.40 217.38 L567.65 217.47 L567.90 217.56 L568.15 217.64 L568.40 217.71 L568.65 217.65 L568.90 217.59 L569.15 217.52 L569.40 217.46 L569.65 217.41 L569.90 217.43 L570.15 217.46 L570.40 217.49 L570.65 217.51 L570.90 217.50 L571.15 217.44 L571.40 217.37 L571.65 217.31 L571.90 217.24 L572.15 217.20 L572.40 217.19 L572.65 217.16 L572.90 217.12 L573.15 217.05 L573.40 216.87 L573.65 216.60 L573.90 216.24 L574.15 215.75 L574.40 215.10 L574.65 214.33 L574.90 213.38 L575.15 212.26 L575.40 211.02 L575.65 209.77 L575.90 208.61 L576.15 207.78 L576.40 207.45 L576.65 207.71 L576.90 208.52 L577.15 209.76 L577.40 211.14 L577.65 212.51 L577.90 213.77 L578.15 214.79 L578.40 215.56 L578.65 216.14 L578.90 216.56 L579.15 216.85 L579.40 217.01 L579.65 217.11 L579.90 217.16 L580.15 217.17 L580.40 217.17 L580.65 217.25 L580.90 217.33 L581.15 217.39 L581.40 217.46 L581.65 217.52 L581.90 217.60 L582.15 217.69 L582.40 217.76 L582.65 217.84 L582.90 217.84 L583.15 217.73 L583.40 217.61 L583.65 217.50 L583.90 217.38 L584.15 217.40 L584.40 217.51 L584.65 217.61 L584.90 217.72 L585.15 217.82 L585.40 217.80 L585.65 217.74 L585.90 217.69 L586.15 217.63 L586.40 217.57 L586.65 217.58 L586.90 217.58 L587.15 217.59 L587.40 217.59 L587.65 217.60 L587.90 217.65 L588.15 217.69 L588.40 217.73 L588.65 217.77 L588.90 217.76 L589.15 217.68 L589.40 217.60 L589.65 217.52 L589.90 217.43 L590.15 217.39 L590.40 217.38 L590.65 217.36 L590.90 217.32 L591.15 217.27 L591.40 217.20 L591.65 217.09 L591.90 216.92 L592.15 216.67 L592.40 216.32 L592.65 215.87 L592.90 215.27 L593.15 214.52 L593.40 213.65 L593.65 212.65 L593.90 211.51 L594.15 210.44 L594.40 209.56 L594.65 209.00 L594.90 208.92 L595.15 209.37 L595.40 210.16 L595.65 211.17 L595.90 212.27 L596.15 213.30 L596.40 214.21 L596.65 214.99 L596.90 215.63 L597.15 216.12 L597.40 216.48 L597.65 216.74 L597.90 216.90 L598.15 217.00 L598.40 217.04 L598.65 217.01 L598.90 216.93 L599.15 216.79 L599.40 216.58 L599.65 216.30 L599.90 215.92 L600.15 215.42 L600.40 214.79 L600.65 214.02 L600.90 213.13 L601.15 212.15 L601.40 211.17 L601.65 210.30 L601.90 209.65 L602.15 209.37 L602.40 209.51 L602.65 210.02 L602.90 210.80 L603.15 211.73 L603.40 212.69 L603.65 213.60 L603.90 214.41 L604.15 215.10 L604.40 215.66 L604.65 216.20 L604.90 216.62 L605.15 216.95 L605.40 217.22 L605.65 217.40 L605.90 217.41 L606.15 217.40 L606.40 217.38 L606.65 217.34 L606.90 217.32 L607.15 217.33 L607.40 217.34 L607.65 217.34 L607.90 217.34 L608.15 217.34 L608.40 217.34 L608.65 217.34 L608.90 217.34 L609.15 217.33 L609.40 217.43 L609.65 217.54 L609.90 217.66 L610.15 217.77 L610.40 217.89 L610.65 217.90 L610.90 217.90 L611.15 217.91 L611.40 217.92 L611.65 217.92 L611.90 217.89 L612.15 217.86 L612.40 217.83 L612.65 217.80 L612.90 217.76 L613.15 217.70 L613.40 217.64 L613.65 217.59 L613.90 217.52 L614.15 217.49 L614.40 217.48 L614.65 217.47 L614.90 217.46 L615.15 217.44 L615.40 217.43 L615.65 217.42 L615.90 217.40 L616.15 217.37 L616.40 217.32 L616.65 217.27 L616.90 217.18 L617.15 217.06 L617.40 216.88 L617.65 216.64 L617.90 216.29 L618.15 215.89 L618.40 215.46 L618.65 215.02 L618.90 214.65 L619.15 214.42 L619.40 214.31 L619.65 214.37 L619.90 214.59 L620.15 214.89 L620.40 215.23 L620.65 215.60 L620.90 215.95 L621.15 216.27 L621.40 216.64 L621.65 216.99 L621.90 217.28 L622.15 217.52 L622.40 217.72 L622.65 217.79 L622.90 217.84 L623.15 217.88 L623.40 217.90 L623.65 217.90 L623.90 217.85 L624.15 217.80 L624.40 217.74 L624.65 217.68 L624.90 217.62 L625.15 217.57 L625.40 217.53 L625.65 217.47 L625.90 217.42 L626.15 217.45 L626.40 217.53 L626.65 217.60 L626.90 217.66 L627.15 217.69 L627.40 217.53 L627.65 217.29 L627.90 216.99 L628.15 216.63 L628.40 216.20 L628.65 215.80 L628.90 215.34 L629.15 214.85 L629.40 214.37 L629.65 213.92 L629.90 213.55 L630.15 213.35 L630.40 213.36 L630.65 213.57 L630.90 213.97 L631.15 214.50 L631.40 215.06 L631.65 215.60 L631.90 216.09 L632.15 216.48 L632.40 216.79 L632.65 217.03 L632.90 217.22 L633.15 217.36 L633.40 217.45 L633.65 217.51 L633.90 217.56 L634.15 217.60 L634.40 217.62 L634.65 217.60 L634.90 217.57 L635.15 217.54 L635.40 217.50 L635.65 217.49 L635.90 217.54 L636.15 217.59 L636.40 217.64 L636.65 217.69 L636.90 217.69 L637.15 217.62 L637.40 217.55 L637.65 217.49 L637.90 217.42 L638.15 217.41 L638.40 217.45 L638.65 217.49 L638.90 217.53 L639.15 217.57 L639.40 217.56 L639.65 217.54 L639.90 217.52 L640.15 217.47 L640.40 217.41 L640.65 217.43 L640.90 217.44 L641.15 217.45 L641.40 217.46 L641.65 217.46 L641.90 217.37 L642.15 217.29 L642.40 217.20 L642.65 217.12 L642.90 217.05 L643.15 217.02 L643.40 216.98 L643.65 216.94 L643.90 216.91 L644.15 216.90 L644.40 216.91 L644.65 216.91 L644.90 216.92 L645.15 216.93 L645.40 216.89 L645.65 216.85 L645.90 216.81 L646.15 216.76 L646.40 216.72 L646.65 216.74 L646.90 216.76 L647.15 216.77 L647.40 216.79 L647.65 216.80 L647.90 216.76 L648.15 216.71 L648.40 216.67 L648.65 216.63 L648.90 216.60 L649.15 216.60 L649.40 216.60 L649.65 216.60 L649.90 216.60 L650.15 216.57 L650.40 216.54"/>
<path class="c" stroke="#F4585C" d="M412.40 148.10 L412.65 148.10 L412.90 148.10 L413.15 148.10 L413.40 148.10 L413.65 148.10 L413.90 148.10 L414.15 148.10 L414.40 148.10 L414.65 148.10 L414.90 148.10 L415.15 148.10 L415.40 148.10 L415.65 148.10 L415.90 148.10 L416.15 148.10 L416.40 148.10 L416.65 148.10 L416.90 148.10 L417.15 148.10 L417.40 148.10 L417.65 148.10 L417.90 148.10 L418.15 148.10 L418.40 148.10 L418.65 148.10 L418.90 148.10 L419.15 148.10 L419.40 148.10 L419.65 148.10 L419.90 148.10 L420.15 148.10 L420.40 148.10 L420.65 148.10 L420.90 148.10 L421.15 148.10 L421.40 148.10 L421.65 148.10 L421.90 148.10 L422.15 148.10 L422.40 148.10 L422.65 148.10 L422.90 148.10 L423.15 148.10 L423.40 148.10 L423.65 148.10 L423.90 148.10 L424.15 148.10 L424.40 148.10 L424.65 148.10 L424.90 148.10 L425.15 148.10 L425.40 148.10 L425.65 148.10 L425.90 148.10 L426.15 148.10 L426.40 148.10 L426.65 148.10 L426.90 148.10 L427.15 148.10 L427.40 148.10 L427.65 148.10 L427.90 148.10 L428.15 148.10 L428.40 148.10 L428.65 148.10 L428.90 148.10 L429.15 148.10 L429.40 148.10 L429.65 148.10 L429.90 148.10 L430.15 148.10 L430.40 148.10 L430.65 148.10 L430.90 148.10 L431.15 148.10 L431.40 148.10 L431.65 148.10 L431.90 148.10 L432.15 148.10 L432.40 148.10 L432.65 148.10 L432.90 148.10 L433.15 148.10 L433.40 148.10 L433.65 148.10 L433.90 148.10 L434.15 148.10 L434.40 148.10 L434.65 148.10 L434.90 148.10 L435.15 148.10 L435.40 148.10 L435.65 148.10 L435.90 148.10 L436.15 148.10 L436.40 148.10 L436.65 148.10 L436.90 148.10 L437.15 148.10 L437.40 148.10 L437.65 148.10 L437.90 148.10 L438.15 148.10 L438.40 148.10 L438.65 148.10 L438.90 148.10 L439.15 148.10 L439.40 148.10 L439.65 148.10 L439.90 148.10 L440.15 148.10 L440.40 148.10 L440.65 148.10 L440.90 148.10 L441.15 148.10 L441.40 148.10 L441.65 148.10 L441.90 148.10 L442.15 148.10 L442.40 148.10 L442.65 148.10 L442.90 148.10 L443.15 148.10 L443.40 148.10 L443.65 148.10 L443.90 148.10 L444.15 148.09 L444.40 148.09 L444.65 148.09 L444.90 148.09 L445.15 148.09 L445.40 148.09 L445.65 148.09 L445.90 148.09 L446.15 148.09 L446.40 148.09 L446.65 148.09 L446.90 148.09 L447.15 148.09 L447.40 148.09 L447.65 148.09 L447.90 148.09 L448.15 148.09 L448.40 148.09 L448.65 148.09 L448.90 148.09 L449.15 148.09 L449.40 148.09 L449.65 148.09 L449.90 148.09 L450.15 148.09 L450.40 148.09 L450.65 148.09 L450.90 148.09 L451.15 148.09 L451.40 148.09 L451.65 148.09 L451.90 148.09 L452.15 148.09 L452.40 148.09 L452.65 148.09 L452.90 148.09 L453.15 148.09 L453.40 148.09 L453.65 148.09 L453.90 148.09 L454.15 148.09 L454.40 148.09 L454.65 148.09 L454.90 148.09 L455.15 148.08 L455.40 148.08 L455.65 148.08 L455.90 148.08 L456.15 148.08 L456.40 148.08 L456.65 148.08 L456.90 148.08 L457.15 148.08 L457.40 148.08 L457.65 148.07 L457.90 148.07 L458.15 148.07 L458.40 148.07 L458.65 148.06 L458.90 148.06 L459.15 148.05 L459.40 148.03 L459.65 148.01 L459.90 147.98 L460.15 147.93 L460.40 147.85 L460.65 147.75 L460.90 147.64 L461.15 147.52 L461.40 147.43 L461.65 147.38 L461.90 147.40 L462.15 147.48 L462.40 147.59 L462.65 147.70 L462.90 147.81 L463.15 147.89 L463.40 147.95 L463.65 147.99 L463.90 148.01 L464.15 148.03 L464.40 148.04 L464.65 148.04 L464.90 148.04 L465.15 148.04 L465.40 148.04 L465.65 148.04 L465.90 148.04 L466.15 148.04 L466.40 148.04 L466.65 148.04 L466.90 148.03 L467.15 148.03 L467.40 148.03 L467.65 148.02 L467.90 148.02 L468.15 148.01 L468.40 148.01 L468.65 148.00 L468.90 147.99 L469.15 147.98 L469.40 147.97 L469.65 147.95 L469.90 147.93 L470.15 147.91 L470.40 147.88 L470.65 147.85 L470.90 147.81 L471.15 147.75 L471.40 147.67 L471.65 147.53 L471.90 147.28 L472.15 146.82 L472.40 146.00 L472.65 144.70 L472.90 142.88 L473.15 140.74 L473.40 138.76 L473.65 137.72 L473.90 138.18 L474.15 139.89 L474.40 142.04 L474.65 144.03 L474.90 145.54 L475.15 146.54 L475.40 147.12 L475.65 147.44 L475.90 147.62 L476.15 147.71 L476.40 147.78 L476.65 147.82 L476.90 147.86 L477.15 147.88 L477.40 147.91 L477.65 147.92 L477.90 147.94 L478.15 147.95 L478.40 147.96 L478.65 147.97 L478.90 147.97 L479.15 147.98 L479.40 147.98 L479.65 147.98 L479.90 147.98 L480.15 147.98 L480.40 147.98 L480.65 147.98 L480.90 147.97 L481.15 147.97 L481.40 147.96 L481.65 147.95 L481.90 147.94 L482.15 147.93 L482.40 147.91 L482.65 147.89 L482.90 147.87 L483.15 147.84 L483.40 147.80 L483.65 147.74 L483.90 147.66 L484.15 147.53 L484.40 147.28 L484.65 146.81 L484.90 146.00 L485.15 144.70 L485.40 142.88 L485.65 140.74 L485.90 138.76 L486.15 137.72 L486.40 138.19 L486.65 139.89 L486.90 142.05 L487.15 144.03 L487.40 145.55 L487.65 146.54 L487.90 147.13 L488.15 147.45 L488.40 147.63 L488.65 147.73 L488.90 147.79 L489.15 147.84 L489.40 147.88 L489.65 147.90 L489.90 147.93 L490.15 147.95 L490.40 147.96 L490.65 147.98 L490.90 147.99 L491.15 148.00 L491.40 148.01 L491.65 148.01 L491.90 148.02 L492.15 148.03 L492.40 148.03 L492.65 148.04 L492.90 148.04 L493.15 148.05 L493.40 148.05 L493.65 148.05 L493.90 148.05 L494.15 148.06 L494.40 148.06 L494.65 148.06 L494.90 148.06 L495.15 148.06 L495.40 148.07 L495.65 148.07 L495.90 148.07 L496.15 148.07 L496.40 148.07 L496.65 148.07 L496.90 148.07 L497.15 148.08 L497.40 148.08 L497.65 148.08 L497.90 148.08 L498.15 148.08 L498.40 148.08 L498.65 148.08 L498.90 148.08 L499.15 148.08 L499.40 148.08 L499.65 148.08 L499.90 148.08 L500.15 148.08 L500.40 148.08 L500.65 148.08 L500.90 148.08 L501.15 148.08 L501.40 148.09 L501.65 148.09 L501.90 148.09 L502.15 148.09 L502.40 148.09 L502.65 148.09 L502.90 148.09 L503.15 148.09 L503.40 148.09 L503.65 148.09 L503.90 148.09 L504.15 148.09 L504.40 148.09 L504.65 148.09 L504.90 148.09 L505.15 148.09 L505.40 148.09 L505.65 148.09 L505.90 148.09 L506.15 148.09 L506.40 148.09 L506.65 148.09 L506.90 148.09 L507.15 148.09 L507.40 148.09 L507.65 148.09 L507.90 148.09 L508.15 148.09 L508.40 148.09 L508.65 148.09 L508.90 148.09 L509.15 148.09 L509.40 148.09 L509.65 148.09 L509.90 148.09 L510.15 148.09 L510.40 148.09 L510.65 148.09 L510.90 148.09 L511.15 148.09 L511.40 148.09 L511.65 148.09 L511.90 148.09 L512.15 148.09 L512.40 148.09 L512.65 148.09 L512.90 148.09 L513.15 148.09 L513.40 148.09 L513.65 148.09 L513.90 148.09 L514.15 148.09 L514.40 148.09 L514.65 148.09 L514.90 148.09 L515.15 148.09 L515.40 148.09 L515.65 148.09 L515.90 148.09 L516.15 148.09 L516.40 148.09 L516.65 148.09 L516.90 148.09 L517.15 148.09 L517.40 148.09 L517.65 148.09 L517.90 148.09 L518.15 148.09 L518.40 148.08 L518.65 148.08 L518.90 148.08 L519.15 148.08 L519.40 148.08 L519.65 148.08 L519.90 148.08 L520.15 148.08 L520.40 148.08 L520.65 148.07 L520.90 148.07 L521.15 148.07 L521.40 148.07 L521.65 148.06 L521.90 148.06 L522.15 148.05 L522.40 148.05 L522.65 148.04 L522.90 148.03 L523.15 148.02 L523.40 148.01 L523.65 147.98 L523.90 147.94 L524.15 147.86 L524.40 147.74 L524.65 147.53 L524.90 147.24 L525.15 146.87 L525.40 146.44 L525.65 146.05 L525.90 145.82 L526.15 145.85 L526.40 146.12 L526.65 146.53 L526.90 146.95 L527.15 147.31 L527.40 147.58 L527.65 147.77 L527.90 147.88 L528.15 147.95 L528.40 147.99 L528.65 148.01 L528.90 148.02 L529.15 148.03 L529.40 148.04 L529.65 148.05 L529.90 148.06 L530.15 148.06 L530.40 148.06 L530.65 148.07 L530.90 148.07 L531.15 148.07 L531.40 148.07 L531.65 148.08 L531.90 148.08 L532.15 148.08 L532.40 148.08 L532.65 148.08 L532.90 148.08 L533.15 148.08 L533.40 148.08 L533.65 148.08 L533.90 148.08 L534.15 148.09 L534.40 148.09 L534.65 148.09 L534.90 148.09 L535.15 148.09 L535.40 148.09 L535.65 148.09 L535.90 148.09 L536.15 148.09 L536.40 148.09 L536.65 148.09 L536.90 148.09 L537.15 148.09 L537.40 148.09 L537.65 148.09 L537.90 148.09 L538.15 148.09 L538.40 148.09 L538.65 148.09 L538.90 148.08 L539.15 148.08 L539.40 148.08 L539.65 148.08 L539.90 148.08 L540.15 148.08 L540.40 148.08 L540.65 148.08 L540.90 148.07 L541.15 148.07 L541.40 148.06 L541.65 148.05 L541.90 148.03 L542.15 148.01 L542.40 147.98 L542.65 147.93 L542.90 147.88 L543.15 147.82 L543.40 147.75 L543.65 147.69 L543.90 147.63 L544.15 147.60 L544.40 147.60 L544.65 147.63 L544.90 147.68 L545.15 147.74 L545.40 147.81 L545.65 147.87 L545.90 147.92 L546.15 147.97 L546.40 148.00 L546.65 148.03 L546.90 148.05 L547.15 148.06 L547.40 148.07 L547.65 148.07 L547.90 148.08 L548.15 148.08 L548.40 148.08 L548.65 148.08 L548.90 148.08 L549.15 148.08 L549.40 148.09 L549.65 148.09 L549.90 148.09 L550.15 148.09 L550.40 148.09 L550.65 148.09 L550.90 148.09 L551.15 148.09 L551.40 148.09 L551.65 148.09 L551.90 148.09 L552.15 148.09 L552.40 148.09 L552.65 148.09 L552.90 148.09 L553.15 148.09 L553.40 148.09 L553.65 148.09 L553.90 148.09 L554.15 148.09 L554.40 148.09 L554.65 148.09 L554.90 148.09 L555.15 148.09 L555.40 148.09 L555.65 148.09 L555.90 148.09 L556.15 148.09 L556.40 148.09 L556.65 148.09 L556.90 148.09 L557.15 148.09 L557.40 148.09 L557.65 148.09 L557.90 148.09 L558.15 148.09 L558.40 148.09 L558.65 148.09 L558.90 148.08 L559.15 148.08 L559.40 148.08 L559.65 148.08 L559.90 148.08 L560.15 148.08 L560.40 148.07 L560.65 148.07 L560.90 148.06 L561.15 148.05 L561.40 148.04 L561.65 148.02 L561.90 147.99 L562.15 147.95 L562.40 147.90 L562.65 147.84 L562.90 147.78 L563.15 147.71 L563.40 147.65 L563.65 147.61 L563.90 147.59 L564.15 147.61 L564.40 147.65 L564.65 147.71 L564.90 147.78 L565.15 147.84 L565.40 147.90 L565.65 147.95 L565.90 147.99 L566.15 148.02 L566.40 148.04 L566.65 148.05 L566.90 148.06 L567.15 148.07 L567.40 148.07 L567.65 148.07 L567.90 148.07 L568.15 148.08 L568.40 148.08 L568.65 148.08 L568.90 148.08 L569.15 148.08 L569.40 148.08 L569.65 148.08 L569.90 148.08 L570.15 148.08 L570.40 148.08 L570.65 148.08 L570.90 148.08 L571.15 148.07 L571.40 148.07 L571.65 148.07 L571.90 148.07 L572.15 148.07 L572.40 148.06 L572.65 148.06 L572.90 148.06 L573.15 148.05 L573.40 148.05 L573.65 148.04 L573.90 148.02 L574.15 148.01 L574.40 147.98 L574.65 147.93 L574.90 147.87 L575.15 147.79 L575.40 147.69 L575.65 147.55 L575.90 147.40 L576.15 147.24 L576.40 147.09 L576.65 146.97 L576.90 146.90 L577.15 146.91 L577.40 146.99 L577.65 147.12 L577.90 147.27 L578.15 147.43 L578.40 147.58 L578.65 147.71 L578.90 147.81 L579.15 147.89 L579.40 147.95 L579.65 147.98 L579.90 148.01 L580.15 148.03 L580.40 148.04 L580.65 148.05 L580.90 148.06 L581.15 148.06 L581.40 148.06 L581.65 148.07 L581.90 148.07 L582.15 148.07 L582.40 148.07 L582.65 148.08 L582.90 148.08 L583.15 148.08 L583.40 148.08 L583.65 148.08 L583.90 148.08 L584.15 148.08 L584.40 148.08 L584.65 148.08 L584.90 148.08 L585.15 148.08 L585.40 148.08 L585.65 148.08 L585.90 148.08 L586.15 148.08 L586.40 148.08 L586.65 148.08 L586.90 148.08 L587.15 148.08 L587.40 148.08 L587.65 148.08 L587.90 148.08 L588.15 148.08 L588.40 148.08 L588.65 148.08 L588.90 148.08 L589.15 148.08 L589.40 148.08 L589.65 148.08 L589.90 148.08 L590.15 148.08 L590.40 148.08 L590.65 148.08 L590.90 148.07 L591.15 148.07 L591.40 148.07 L591.65 148.07 L591.90 148.06 L592.15 148.05 L592.40 148.04 L592.65 148.03 L592.90 148.00 L593.15 147.97 L593.40 147.93 L593.65 147.87 L593.90 147.80 L594.15 147.73 L594.40 147.65 L594.65 147.57 L594.90 147.51 L595.15 147.49 L595.40 147.50 L595.65 147.54 L595.90 147.61 L596.15 147.69 L596.40 147.77 L596.65 147.84 L596.90 147.90 L597.15 147.94 L597.40 147.98 L597.65 148.00 L597.90 148.02 L598.15 148.03 L598.40 148.03 L598.65 148.03 L598.90 148.03 L599.15 148.02 L599.40 148.01 L599.65 147.99 L599.90 147.96 L600.15 147.91 L600.40 147.85 L600.65 147.76 L600.90 147.66 L601.15 147.54 L601.40 147.40 L601.65 147.28 L601.90 147.17 L602.15 147.10 L602.40 147.10 L602.65 147.15 L602.90 147.25 L603.15 147.38 L603.40 147.52 L603.65 147.64 L603.90 147.75 L604.15 147.84 L604.40 147.91 L604.65 147.96 L604.90 148.00 L605.15 148.02 L605.40 148.04 L605.65 148.05 L605.90 148.05 L606.15 148.06 L606.40 148.06 L606.65 148.07 L606.90 148.07 L607.15 148.07 L607.40 148.07 L607.65 148.08 L607.90 148.08 L608.15 148.08 L608.40 148.08 L608.65 148.08 L608.90 148.08 L609.15 148.08 L609.40 148.08 L609.65 148.08 L609.90 148.09 L610.15 148.09 L610.40 148.09 L610.65 148.09 L610.90 148.09 L611.15 148.09 L611.40 148.09 L611.65 148.09 L611.90 148.09 L612.15 148.09 L612.40 148.09 L612.65 148.09 L612.90 148.09 L613.15 148.09 L613.40 148.09 L613.65 148.09 L613.90 148.09 L614.15 148.09 L614.40 148.09 L614.65 148.09 L614.90 148.09 L615.15 148.09 L615.40 148.08 L615.65 148.08 L615.90 148.08 L616.15 148.08 L616.40 148.08 L616.65 148.08 L616.90 148.07 L617.15 148.07 L617.40 148.06 L617.65 148.05 L617.90 148.04 L618.15 148.02 L618.40 147.99 L618.65 147.95 L618.90 147.90 L619.15 147.85 L619.40 147.80 L619.65 147.75 L619.90 147.71 L620.15 147.69 L620.40 147.70 L620.65 147.73 L620.90 147.78 L621.15 147.83 L621.40 147.88 L621.65 147.93 L621.90 147.97 L622.15 148.00 L622.40 148.03 L622.65 148.05 L622.90 148.06 L623.15 148.07 L623.40 148.07 L623.65 148.07 L623.90 148.08 L624.15 148.08 L624.40 148.08 L624.65 148.08 L624.90 148.08 L625.15 148.08 L625.40 148.08 L625.65 148.08 L625.90 148.08 L626.15 148.08 L626.40 148.08 L626.65 148.08 L626.90 148.08 L627.15 148.08 L627.40 148.08 L627.65 148.07 L627.90 148.07 L628.15 148.06 L628.40 148.06 L628.65 148.05 L628.90 148.03 L629.15 148.00 L629.40 147.97 L629.65 147.92 L629.90 147.87 L630.15 147.80 L630.40 147.72 L630.65 147.64 L630.90 147.57 L631.15 147.52 L631.40 147.50 L631.65 147.52 L631.90 147.57 L632.15 147.64 L632.40 147.72 L632.65 147.80 L632.90 147.87 L633.15 147.93 L633.40 147.97 L633.65 148.01 L633.90 148.03 L634.15 148.05 L634.40 148.06 L634.65 148.07 L634.90 148.07 L635.15 148.08 L635.40 148.08 L635.65 148.08 L635.90 148.08 L636.15 148.08 L636.40 148.09 L636.65 148.09 L636.90 148.09 L637.15 148.09 L637.40 148.09 L637.65 148.09 L637.90 148.09 L638.15 148.09 L638.40 148.09 L638.65 148.09 L638.90 148.09 L639.15 148.09 L639.40 148.09 L639.65 148.09 L639.90 148.09 L640.15 148.09 L640.40 148.09 L640.65 148.09 L640.90 148.09 L641.15 148.10 L641.40 148.10 L641.65 148.10 L641.90 148.10 L642.15 148.10 L642.40 148.10 L642.65 148.10 L642.90 148.10 L643.15 148.10 L643.40 148.10 L643.65 148.10 L643.90 148.10 L644.15 148.10 L644.40 148.10 L644.65 148.10 L644.90 148.10 L645.15 148.10 L645.40 148.10 L645.65 148.10 L645.90 148.10 L646.15 148.10 L646.40 148.10 L646.65 148.10 L646.90 148.10 L647.15 148.10 L647.40 148.10 L647.65 148.10 L647.90 148.10 L648.15 148.10 L648.40 148.10 L648.65 148.10 L648.90 148.10 L649.15 148.10 L649.40 148.10 L649.65 148.10 L649.90 148.10 L650.15 148.10 L650.40 148.10"/>
<path class="c" stroke="#2082E8" d="M412.40 117.40 L412.65 117.37 L412.90 117.35 L413.15 117.32 L413.40 117.29 L413.65 117.35 L413.90 117.41 L414.15 117.47 L414.40 117.53 L414.65 117.45 L414.90 117.37 L415.15 117.29 L415.40 117.22 L415.65 117.27 L415.90 117.32 L416.15 117.38 L416.40 117.43 L416.65 117.40 L416.90 117.38 L417.15 117.35 L417.40 117.32 L417.65 117.28 L417.90 117.24 L418.15 117.20 L418.40 117.15 L418.65 117.20 L418.90 117.25 L419.15 117.31 L419.40 117.36 L419.65 117.29 L419.90 117.23 L420.15 117.17 L420.40 117.10 L420.65 117.15 L420.90 117.19 L421.15 117.24 L421.40 117.28 L421.65 117.23 L421.90 117.18 L422.15 117.13 L422.40 117.08 L422.65 117.08 L422.90 117.08 L423.15 117.07 L423.40 117.07 L423.65 117.11 L423.90 117.15 L424.15 117.18 L424.40 117.22 L424.65 117.26 L424.90 117.31 L425.15 117.36 L425.40 117.40 L425.65 117.31 L425.90 117.22 L426.15 117.12 L426.40 117.03 L426.65 117.04 L426.90 117.04 L427.15 117.05 L427.40 117.06 L427.65 117.11 L427.90 117.15 L428.15 117.20 L428.40 117.24 L428.65 117.28 L428.90 117.31 L429.15 117.35 L429.40 117.38 L429.65 117.33 L429.90 117.28 L430.15 117.23 L430.40 117.18 L430.65 117.15 L430.90 117.12 L431.15 117.10 L431.40 117.07 L431.65 117.13 L431.90 117.20 L432.15 117.27 L432.40 117.34 L432.65 117.22 L432.90 117.09 L433.15 116.97 L433.40 116.85 L433.65 116.95 L433.90 117.05 L434.15 117.14 L434.40 117.24 L434.65 117.16 L434.90 117.09 L435.15 117.01 L435.40 116.93 L435.65 116.91 L435.90 116.89 L436.15 116.86 L436.40 116.84 L436.65 116.83 L436.90 116.82 L437.15 116.82 L437.40 116.81 L437.65 116.83 L437.90 116.84 L438.15 116.86 L438.40 116.88 L438.65 116.94 L438.90 117.00 L439.15 117.06 L439.40 117.11 L439.65 117.03 L439.90 116.95 L440.15 116.86 L440.40 116.78 L440.65 116.82 L440.90 116.87 L441.15 116.91 L441.40 116.96 L441.65 116.96 L441.90 116.96 L442.15 116.96 L442.40 116.96 L442.65 116.92 L442.90 116.89 L443.15 116.85 L443.40 116.81 L443.65 116.82 L443.90 116.84 L444.15 116.86 L444.40 116.87 L444.65 116.81 L444.90 116.74 L445.15 116.67 L445.40 116.61 L445.65 116.60 L445.90 116.60 L446.15 116.59 L446.40 116.58 L446.65 116.60 L446.90 116.61 L447.15 116.62 L447.40 116.63 L447.65 116.69 L447.90 116.74 L448.15 116.79 L448.40 116.85 L448.65 116.81 L448.90 116.77 L449.15 116.73 L449.40 116.69 L449.65 116.67 L449.90 116.65 L450.15 116.63 L450.40 116.61 L450.65 116.64 L450.90 116.66 L451.15 116.69 L451.40 116.72 L451.65 116.69 L451.90 116.67 L452.15 116.64 L452.40 116.62 L452.65 116.59 L452.90 116.56 L453.15 116.54 L453.40 116.51 L453.65 116.56 L453.90 116.61 L454.15 116.66 L454.40 116.71 L454.65 116.69 L454.90 116.67 L455.15 116.64 L455.40 116.61 L455.65 116.54 L455.90 116.46 L456.15 116.38 L456.40 116.29 L456.65 116.30 L456.90 116.29 L457.15 116.26 L457.40 116.21 L457.65 116.09 L457.90 115.94 L458.15 115.75 L458.40 115.53 L458.65 115.33 L458.90 115.12 L459.15 114.89 L459.40 114.69 L459.65 114.46 L459.90 114.31 L460.15 114.25 L460.40 114.29 L460.65 114.37 L460.90 114.52 L461.15 114.70 L461.40 114.89 L461.65 115.21 L461.90 115.50 L462.15 115.76 L462.40 115.99 L462.65 115.99 L462.90 115.96 L463.15 115.90 L463.40 115.82 L463.65 115.87 L463.90 115.91 L464.15 115.94 L464.40 115.97 L464.65 115.99 L464.90 116.01 L465.15 116.02 L465.40 116.03 L465.65 115.92 L465.90 115.80 L466.15 115.67 L466.40 115.54 L466.65 115.52 L466.90 115.49 L467.15 115.45 L467.40 115.39 L467.65 115.21 L467.90 114.99 L468.15 114.72 L468.40 114.37 L468.65 114.04 L468.90 113.53 L469.15 112.77 L469.40 111.69 L469.65 110.14 L469.90 108.12 L470.15 105.59 L470.40 102.58 L470.65 99.14 L470.90 95.49 L471.15 91.93 L471.40 88.84 L471.65 86.76 L471.90 86.03 L472.15 86.82 L472.40 88.96 L472.65 91.93 L472.90 95.38 L473.15 98.91 L473.40 102.24 L473.65 105.30 L473.90 107.86 L474.15 109.93 L474.40 111.52 L474.65 112.64 L474.90 113.44 L475.15 114.00 L475.40 114.38 L475.65 114.65 L475.90 114.83 L476.15 114.97 L476.40 115.06 L476.65 115.12 L476.90 115.17 L477.15 115.19 L477.40 115.21 L477.65 115.28 L477.90 115.34 L478.15 115.40 L478.40 115.44 L478.65 115.45 L478.90 115.44 L479.15 115.43 L479.40 115.41 L479.65 115.31 L479.90 115.19 L480.15 115.07 L480.40 114.92 L480.65 114.83 L480.90 114.71 L481.15 114.53 L481.40 114.27 L481.65 113.78 L481.90 113.12 L482.15 112.21 L482.40 110.97 L482.65 109.47 L482.90 107.49 L483.15 105.00 L483.40 102.02 L483.65 98.54 L483.90 94.86 L484.15 91.27 L484.40 88.16 L484.65 86.06 L484.90 85.33 L485.15 86.14 L485.40 88.33 L485.65 91.41 L485.90 94.98 L486.15 98.63 L486.40 102.07 L486.65 105.07 L486.90 107.58 L487.15 109.57 L487.40 111.08 L487.65 112.26 L487.90 113.11 L488.15 113.71 L488.40 114.14 L488.65 114.46 L488.90 114.71 L489.15 114.90 L489.40 115.05 L489.65 115.07 L489.90 115.06 L490.15 115.05 L490.40 115.03 L490.65 115.13 L490.90 115.23 L491.15 115.32 L491.40 115.41 L491.65 115.40 L491.90 115.39 L492.15 115.38 L492.40 115.36 L492.65 115.37 L492.90 115.38 L493.15 115.39 L493.40 115.40 L493.65 115.40 L493.90 115.41 L494.15 115.41 L494.40 115.41 L494.65 115.51 L494.90 115.60 L495.15 115.69 L495.40 115.79 L495.65 115.71 L495.90 115.64 L496.15 115.56 L496.40 115.48 L496.65 115.50 L496.90 115.51 L497.15 115.53 L497.40 115.55 L497.65 115.56 L497.90 115.58 L498.15 115.60 L498.40 115.62 L498.65 115.68 L498.90 115.74 L499.15 115.80 L499.40 115.86 L499.65 115.75 L499.90 115.65 L500.15 115.55 L500.40 115.45 L500.65 115.50 L500.90 115.54 L501.15 115.58 L501.40 115.63 L501.65 115.64 L501.90 115.64 L502.15 115.65 L502.40 115.66 L502.65 115.70 L502.90 115.74 L503.15 115.78 L503.40 115.82 L503.65 115.80 L503.90 115.79 L504.15 115.78 L504.40 115.77 L504.65 115.77 L504.90 115.77 L505.15 115.77 L505.40 115.77 L505.65 115.69 L505.90 115.62 L506.15 115.54 L506.40 115.46 L506.65 115.47 L506.90 115.48 L507.15 115.50 L507.40 115.51 L507.65 115.49 L507.90 115.48 L508.15 115.47 L508.40 115.46 L508.65 115.52 L508.90 115.58 L509.15 115.63 L509.40 115.69 L509.65 115.69 L509.90 115.70 L510.15 115.70 L510.40 115.70 L510.65 115.58 L510.90 115.47 L511.15 115.35 L511.40 115.23 L511.65 115.21 L511.90 115.18 L512.15 115.14 L512.40 115.09 L512.65 115.04 L512.90 114.97 L513.15 114.90 L513.40 114.82 L513.65 114.74 L513.90 114.66 L514.15 114.60 L514.40 114.57 L514.65 114.60 L514.90 114.65 L515.15 114.73 L515.40 114.83 L515.65 114.91 L515.90 114.99 L516.15 115.07 L516.40 115.14 L516.65 115.14 L516.90 115.13 L517.15 115.12 L517.40 115.09 L517.65 115.06 L517.90 115.03 L518.15 115.00 L518.40 114.96 L518.65 115.00 L518.90 115.04 L519.15 115.08 L519.40 115.11 L519.65 115.08 L519.90 115.05 L520.15 115.02 L520.40 114.98 L520.65 114.97 L520.90 114.94 L521.15 114.90 L521.40 114.82 L521.65 114.73 L521.90 114.58 L522.15 114.34 L522.40 113.97 L522.65 113.39 L522.90 112.64 L523.15 111.73 L523.40 110.69 L523.65 109.57 L523.90 108.47 L524.15 107.53 L524.40 106.90 L524.65 106.76 L524.90 107.11 L525.15 107.86 L525.40 108.87 L525.65 109.96 L525.90 111.03 L526.15 111.99 L526.40 112.80 L526.65 113.36 L526.90 113.77 L527.15 114.04 L527.40 114.20 L527.65 114.47 L527.90 114.69 L528.15 114.87 L528.40 115.03 L528.65 115.05 L528.90 115.06 L529.15 115.07 L529.40 115.07 L529.65 115.09 L529.90 115.11 L530.15 115.13 L530.40 115.15 L530.65 115.15 L530.90 115.14 L531.15 115.14 L531.40 115.13 L531.65 115.08 L531.90 115.03 L532.15 114.98 L532.40 114.93 L532.65 114.93 L532.90 114.93 L533.15 114.92 L533.40 114.92 L533.65 114.88 L533.90 114.84 L534.15 114.80 L534.40 114.76 L534.65 114.82 L534.90 114.88 L535.15 114.95 L535.40 115.01 L535.65 114.93 L535.90 114.85 L536.15 114.77 L536.40 114.70 L536.65 114.69 L536.90 114.68 L537.15 114.67 L537.40 114.67 L537.65 114.67 L537.90 114.68 L538.15 114.68 L538.40 114.68 L538.65 114.66 L538.90 114.63 L539.15 114.59 L539.40 114.54 L539.65 114.51 L539.90 114.47 L540.15 114.41 L540.40 114.33 L540.65 114.18 L540.90 114.00 L541.15 113.80 L541.40 113.59 L541.65 113.40 L541.90 113.20 L542.15 113.02 L542.40 112.86 L542.65 112.77 L542.90 112.73 L543.15 112.75 L543.40 112.83 L543.65 112.93 L543.90 113.08 L544.15 113.24 L544.40 113.41 L544.65 113.61 L544.90 113.81 L545.15 113.99 L545.40 114.15 L545.65 114.21 L545.90 114.26 L546.15 114.28 L546.40 114.29 L546.65 114.44 L546.90 114.57 L547.15 114.70 L547.40 114.82 L547.65 114.80 L547.90 114.77 L548.15 114.74 L548.40 114.71 L548.65 114.65 L548.90 114.59 L549.15 114.53 L549.40 114.47 L549.65 114.48 L549.90 114.49 L550.15 114.50 L550.40 114.51 L550.65 114.52 L550.90 114.52 L551.15 114.53 L551.40 114.54 L551.65 114.53 L551.90 114.53 L552.15 114.53 L552.40 114.52 L552.65 114.49 L552.90 114.45 L553.15 114.41 L553.40 114.38 L553.65 114.46 L553.90 114.55 L554.15 114.63 L554.40 114.71 L554.65 114.72 L554.90 114.73 L555.15 114.74 L555.40 114.75 L555.65 114.67 L555.90 114.60 L556.15 114.52 L556.40 114.44 L556.65 114.43 L556.90 114.42 L557.15 114.40 L557.40 114.39 L557.65 114.32 L557.90 114.24 L558.15 114.16 L558.40 114.06 L558.65 114.00 L558.90 113.93 L559.15 113.83 L559.40 113.69 L559.65 113.55 L559.90 113.36 L560.15 113.13 L560.40 112.85 L560.65 112.49 L560.90 112.11 L561.15 111.72 L561.40 111.34 L561.65 111.10 L561.90 110.95 L562.15 110.91 L562.40 111.02 L562.65 111.10 L562.90 111.29 L563.15 111.54 L563.40 111.83 L563.65 112.18 L563.90 112.51 L564.15 112.80 L564.40 113.05 L564.65 113.39 L564.90 113.69 L565.15 113.94 L565.40 114.16 L565.65 114.18 L565.90 114.18 L566.15 114.16 L566.40 114.13 L566.65 114.10 L566.90 114.06 L567.15 114.02 L567.40 113.98 L567.65 114.03 L567.90 114.08 L568.15 114.12 L568.40 114.17 L568.65 114.10 L568.90 114.02 L569.15 113.95 L569.40 113.88 L569.65 113.93 L569.90 113.98 L570.15 114.03 L570.40 114.08 L570.65 114.12 L570.90 114.16 L571.15 114.19 L571.40 114.22 L571.65 114.16 L571.90 114.09 L572.15 113.99 L572.40 113.86 L572.65 113.67 L572.90 113.42 L573.15 113.09 L573.40 112.66 L573.65 112.09 L573.90 111.43 L574.15 110.69 L574.40 109.91 L574.65 109.21 L574.90 108.61 L575.15 108.19 L575.40 108.05 L575.65 108.18 L575.90 108.58 L576.15 109.17 L576.40 109.85 L576.65 110.65 L576.90 111.41 L577.15 112.10 L577.40 112.68 L577.65 113.06 L577.90 113.34 L578.15 113.54 L578.40 113.67 L578.65 113.82 L578.90 113.93 L579.15 114.02 L579.40 114.09 L579.65 114.06 L579.90 114.03 L580.15 113.99 L580.40 113.95 L580.65 113.94 L580.90 113.94 L581.15 113.93 L581.40 113.93 L581.65 114.01 L581.90 114.08 L582.15 114.16 L582.40 114.24 L582.65 114.26 L582.90 114.28 L583.15 114.31 L583.40 114.33 L583.65 114.31 L583.90 114.29 L584.15 114.27 L584.40 114.26 L584.65 114.25 L584.90 114.24 L585.15 114.23 L585.40 114.22 L585.65 114.21 L585.90 114.21 L586.15 114.21 L586.40 114.20 L586.65 114.18 L586.90 114.16 L587.15 114.14 L587.40 114.12 L587.65 114.04 L587.90 113.97 L588.15 113.89 L588.40 113.80 L588.65 113.82 L588.90 113.82 L589.15 113.83 L589.40 113.82 L589.65 113.74 L589.90 113.64 L590.15 113.52 L590.40 113.35 L590.65 113.12 L590.90 112.82 L591.15 112.45 L591.40 111.99 L591.65 111.49 L591.90 110.90 L592.15 110.23 L592.40 109.51 L592.65 108.80 L592.90 108.13 L593.15 107.56 L593.40 107.16 L593.65 106.96 L593.90 107.03 L594.15 107.36 L594.40 107.88 L594.65 108.59 L594.90 109.36 L595.15 110.13 L595.40 110.86 L595.65 111.50 L595.90 112.05 L596.15 112.50 L596.40 112.87 L596.65 113.05 L596.90 113.15 L597.15 113.19 L597.40 113.16 L597.65 113.19 L597.90 113.16 L598.15 113.07 L598.40 112.89 L598.65 112.58 L598.90 112.18 L599.15 111.69 L599.40 111.12 L599.65 110.47 L599.90 109.78 L600.15 109.09 L600.40 108.46 L600.65 107.88 L600.90 107.49 L601.15 107.35 L601.40 107.46 L601.65 107.85 L601.90 108.41 L602.15 109.06 L602.40 109.75 L602.65 110.44 L602.90 111.08 L603.15 111.64 L603.40 112.13 L603.65 112.52 L603.90 112.83 L604.15 113.07 L604.40 113.25 L604.65 113.38 L604.90 113.48 L605.15 113.56 L605.40 113.61 L605.65 113.71 L605.90 113.79 L606.15 113.87 L606.40 113.94 L606.65 113.99 L606.90 114.04 L607.15 114.09 L607.40 114.13 L607.65 114.13 L607.90 114.14 L608.15 114.14 L608.40 114.13 L608.65 114.09 L608.90 114.05 L609.15 114.01 L609.40 113.97 L609.65 114.00 L609.90 114.02 L610.15 114.05 L610.40 114.07 L610.65 114.09 L610.90 114.11 L611.15 114.13 L611.40 114.14 L611.65 114.05 L611.90 113.96 L612.15 113.87 L612.40 113.78 L612.65 113.85 L612.90 113.92 L613.15 113.99 L613.40 114.06 L613.65 114.08 L613.90 114.10 L614.15 114.13 L614.40 114.15 L614.65 114.11 L614.90 114.08 L615.15 114.03 L615.40 113.98 L615.65 113.92 L615.90 113.84 L616.15 113.75 L616.40 113.62 L616.65 113.44 L616.90 113.23 L617.15 113.00 L617.40 112.74 L617.65 112.48 L617.90 112.21 L618.15 111.97 L618.40 111.77 L618.65 111.76 L618.90 111.82 L619.15 111.97 L619.40 112.19 L619.65 112.33 L619.90 112.49 L620.15 112.66 L620.40 112.83 L620.65 113.09 L620.90 113.32 L621.15 113.53 L621.40 113.71 L621.65 113.82 L621.90 113.91 L622.15 113.99 L622.40 114.04 L622.65 114.00 L622.90 113.94 L623.15 113.88 L623.40 113.81 L623.65 113.81 L623.90 113.81 L624.15 113.80 L624.40 113.79 L624.65 113.85 L624.90 113.90 L625.15 113.94 L625.40 113.97 L625.65 113.88 L625.90 113.78 L626.15 113.65 L626.40 113.48 L626.65 113.23 L626.90 112.93 L627.15 112.58 L627.40 112.19 L627.65 111.81 L627.90 111.41 L628.15 110.99 L628.40 110.60 L628.65 110.27 L628.90 110.04 L629.15 109.94 L629.40 109.98 L629.65 110.27 L629.90 110.66 L630.15 111.12 L630.40 111.62 L630.65 112.02 L630.90 112.39 L631.15 112.72 L631.40 113.01 L631.65 113.17 L631.90 113.29 L632.15 113.36 L632.40 113.40 L632.65 113.57 L632.90 113.72 L633.15 113.85 L633.40 113.97 L633.65 114.02 L633.90 114.06 L634.15 114.09 L634.40 114.12 L634.65 114.09 L634.90 114.06 L635.15 114.03 L635.40 113.99 L635.65 113.96 L635.90 113.93 L636.15 113.89 L636.40 113.86 L636.65 113.89 L636.90 113.91 L637.15 113.94 L637.40 113.97 L637.65 113.92 L637.90 113.87 L638.15 113.82 L638.40 113.77 L638.65 113.75 L638.90 113.74 L639.15 113.73 L639.40 113.71 L639.65 113.83 L639.90 113.95 L640.15 114.05 L640.40 114.15 L640.65 114.08 L640.90 114.01 L641.15 113.94 L641.40 113.87 L641.65 113.83 L641.90 113.79 L642.15 113.74 L642.40 113.70 L642.65 113.72 L642.90 113.75 L643.15 113.77 L643.40 113.79 L643.65 113.70 L643.90 113.61 L644.15 113.52 L644.40 113.43 L644.65 113.45 L644.90 113.48 L645.15 113.51 L645.40 113.53 L645.65 113.50 L645.90 113.46 L646.15 113.43 L646.40 113.39 L646.65 113.29 L646.90 113.18 L647.15 113.08 L647.40 112.97 L647.65 112.95 L647.90 112.92 L648.15 112.90 L648.40 112.88 L648.65 112.85 L648.90 112.83 L649.15 112.81 L649.40 112.78 L649.65 112.75 L649.90 112.71 L650.15 112.68 L650.40 112.65"/>
<path class="c" stroke="#2FBA87" d="M412.40 66.05 L412.65 66.05 L412.90 66.05 L413.15 66.05 L413.40 66.05 L413.65 66.05 L413.90 66.05 L414.15 66.05 L414.40 66.05 L414.65 66.05 L414.90 66.05 L415.15 66.05 L415.40 66.05 L415.65 66.05 L415.90 66.05 L416.15 66.05 L416.40 66.05 L416.65 66.05 L416.90 66.05 L417.15 66.05 L417.40 66.05 L417.65 66.05 L417.90 66.05 L418.15 66.05 L418.40 66.05 L418.65 66.05 L418.90 66.05 L419.15 66.05 L419.40 66.05 L419.65 66.05 L419.90 66.05 L420.15 66.05 L420.40 66.05 L420.65 66.05 L420.90 66.05 L421.15 66.05 L421.40 66.05 L421.65 66.05 L421.90 66.05 L422.15 66.05 L422.40 66.05 L422.65 66.05 L422.90 66.05 L423.15 66.05 L423.40 66.05 L423.65 66.05 L423.90 66.05 L424.15 66.05 L424.40 66.05 L424.65 66.05 L424.90 66.05 L425.15 66.05 L425.40 66.05 L425.65 66.05 L425.90 66.05 L426.15 66.05 L426.40 66.05 L426.65 66.05 L426.90 66.05 L427.15 66.05 L427.40 66.05 L427.65 66.05 L427.90 66.05 L428.15 66.05 L428.40 66.05 L428.65 66.05 L428.90 66.05 L429.15 66.05 L429.40 66.05 L429.65 66.05 L429.90 66.05 L430.15 66.05 L430.40 66.05 L430.65 66.05 L430.90 66.05 L431.15 66.05 L431.40 66.05 L431.65 66.05 L431.90 66.05 L432.15 66.05 L432.40 66.05 L432.65 66.05 L432.90 66.05 L433.15 66.05 L433.40 66.05 L433.65 66.05 L433.90 66.05 L434.15 66.05 L434.40 66.05 L434.65 66.05 L434.90 66.05 L435.15 66.05 L435.40 66.05 L435.65 66.05 L435.90 66.05 L436.15 66.05 L436.40 66.05 L436.65 66.05 L436.90 66.05 L437.15 66.05 L437.40 66.05 L437.65 66.05 L437.90 66.05 L438.15 66.05 L438.40 66.05 L438.65 66.05 L438.90 66.05 L439.15 66.05 L439.40 66.05 L439.65 66.05 L439.90 66.05 L440.15 66.05 L440.40 66.05 L440.65 66.05 L440.90 66.05 L441.15 66.05 L441.40 66.05 L441.65 66.05 L441.90 66.05 L442.15 66.05 L442.40 66.05 L442.65 66.05 L442.90 66.05 L443.15 66.05 L443.40 66.05 L443.65 66.05 L443.90 66.05 L444.15 66.05 L444.40 66.05 L444.65 66.05 L444.90 66.04 L445.15 66.04 L445.40 66.04 L445.65 66.04 L445.90 66.04 L446.15 66.04 L446.40 66.04 L446.65 66.04 L446.90 66.04 L447.15 66.04 L447.40 66.04 L447.65 66.04 L447.90 66.04 L448.15 66.04 L448.40 66.04 L448.65 66.04 L448.90 66.04 L449.15 66.04 L449.40 66.04 L449.65 66.04 L449.90 66.04 L450.15 66.04 L450.40 66.04 L450.65 66.04 L450.90 66.04 L451.15 66.04 L451.40 66.04 L451.65 66.04 L451.90 66.04 L452.15 66.04 L452.40 66.04 L452.65 66.04 L452.90 66.04 L453.15 66.04 L453.40 66.04 L453.65 66.04 L453.90 66.04 L454.15 66.04 L454.40 66.04 L454.65 66.04 L454.90 66.04 L455.15 66.04 L455.40 66.03 L455.65 66.03 L455.90 66.03 L456.15 66.03 L456.40 66.03 L456.65 66.03 L456.90 66.03 L457.15 66.03 L457.40 66.03 L457.65 66.02 L457.90 66.02 L458.15 66.02 L458.40 66.02 L458.65 66.01 L458.90 66.01 L459.15 66.00 L459.40 65.99 L459.65 65.98 L459.90 65.95 L460.15 65.91 L460.40 65.85 L460.65 65.76 L460.90 65.64 L461.15 65.50 L461.40 65.35 L461.65 65.21 L461.90 65.14 L462.15 65.15 L462.40 65.24 L462.65 65.37 L462.90 65.52 L463.15 65.66 L463.40 65.77 L463.65 65.85 L463.90 65.91 L464.15 65.94 L464.40 65.97 L464.65 65.98 L464.90 65.98 L465.15 65.99 L465.40 65.99 L465.65 65.99 L465.90 65.99 L466.15 65.99 L466.40 65.99 L466.65 65.99 L466.90 65.99 L467.15 65.99 L467.40 65.99 L467.65 65.98 L467.90 65.98 L468.15 65.97 L468.40 65.97 L468.65 65.96 L468.90 65.96 L469.15 65.95 L469.40 65.94 L469.65 65.93 L469.90 65.92 L470.15 65.90 L470.40 65.88 L470.65 65.86 L470.90 65.83 L471.15 65.80 L471.40 65.75 L471.65 65.69 L471.90 65.58 L472.15 65.39 L472.40 65.03 L472.65 64.39 L472.90 63.35 L473.15 61.86 L473.40 60.04 L473.65 58.25 L473.90 57.12 L474.15 57.25 L474.40 58.56 L474.65 60.39 L474.90 62.15 L475.15 63.52 L475.40 64.42 L475.65 64.91 L475.90 65.08 L476.15 65.05 L476.40 64.91 L476.65 64.73 L476.90 64.62 L477.15 64.67 L477.40 64.87 L477.65 65.13 L477.90 65.39 L478.15 65.59 L478.40 65.72 L478.65 65.81 L478.90 65.86 L479.15 65.88 L479.40 65.90 L479.65 65.91 L479.90 65.92 L480.15 65.93 L480.40 65.93 L480.65 65.93 L480.90 65.93 L481.15 65.93 L481.40 65.93 L481.65 65.93 L481.90 65.92 L482.15 65.91 L482.40 65.90 L482.65 65.89 L482.90 65.88 L483.15 65.86 L483.40 65.84 L483.65 65.81 L483.90 65.77 L484.15 65.71 L484.40 65.61 L484.65 65.44 L484.90 65.11 L485.15 64.52 L485.40 63.57 L485.65 62.20 L485.90 60.52 L486.15 58.87 L486.40 57.84 L486.65 57.96 L486.90 59.17 L487.15 60.87 L487.40 62.51 L487.65 63.80 L487.90 64.68 L488.15 65.20 L488.40 65.49 L488.65 65.65 L488.90 65.74 L489.15 65.79 L489.40 65.83 L489.65 65.86 L489.90 65.89 L490.15 65.91 L490.40 65.92 L490.65 65.94 L490.90 65.95 L491.15 65.96 L491.40 65.97 L491.65 65.97 L491.90 65.98 L492.15 65.98 L492.40 65.99 L492.65 65.99 L492.90 66.00 L493.15 66.00 L493.40 66.00 L493.65 66.01 L493.90 66.01 L494.15 66.01 L494.40 66.01 L494.65 66.02 L494.90 66.02 L495.15 66.02 L495.40 66.02 L495.65 66.02 L495.90 66.02 L496.15 66.02 L496.40 66.03 L496.65 66.03 L496.90 66.03 L497.15 66.03 L497.40 66.03 L497.65 66.03 L497.90 66.03 L498.15 66.03 L498.40 66.03 L498.65 66.03 L498.90 66.03 L499.15 66.03 L499.40 66.03 L499.65 66.03 L499.90 66.03 L500.15 66.04 L500.40 66.04 L500.65 66.04 L500.90 66.04 L501.15 66.04 L501.40 66.04 L501.65 66.04 L501.90 66.04 L502.15 66.04 L502.40 66.04 L502.65 66.04 L502.90 66.04 L503.15 66.04 L503.40 66.04 L503.65 66.04 L503.90 66.04 L504.15 66.04 L504.40 66.04 L504.65 66.04 L504.90 66.04 L505.15 66.04 L505.40 66.04 L505.65 66.04 L505.90 66.04 L506.15 66.04 L506.40 66.04 L506.65 66.04 L506.90 66.04 L507.15 66.04 L507.40 66.04 L507.65 66.04 L507.90 66.04 L508.15 66.04 L508.40 66.04 L508.65 66.04 L508.90 66.04 L509.15 66.04 L509.40 66.04 L509.65 66.04 L509.90 66.04 L510.15 66.04 L510.40 66.04 L510.65 66.04 L510.90 66.04 L511.15 66.04 L511.40 66.04 L511.65 66.04 L511.90 66.04 L512.15 66.04 L512.40 66.04 L512.65 66.04 L512.90 66.04 L513.15 66.04 L513.40 66.04 L513.65 66.04 L513.90 66.04 L514.15 66.04 L514.40 66.04 L514.65 66.04 L514.90 66.04 L515.15 66.04 L515.40 66.04 L515.65 66.04 L515.90 66.04 L516.15 66.04 L516.40 66.04 L516.65 66.04 L516.90 66.04 L517.15 66.04 L517.40 66.04 L517.65 66.04 L517.90 66.04 L518.15 66.04 L518.40 66.04 L518.65 66.04 L518.90 66.04 L519.15 66.04 L519.40 66.04 L519.65 66.03 L519.90 66.03 L520.15 66.03 L520.40 66.03 L520.65 66.03 L520.90 66.03 L521.15 66.03 L521.40 66.03 L521.65 66.02 L521.90 66.02 L522.15 66.02 L522.40 66.02 L522.65 66.01 L522.90 66.01 L523.15 66.00 L523.40 65.99 L523.65 65.98 L523.90 65.97 L524.15 65.95 L524.40 65.91 L524.65 65.85 L524.90 65.75 L525.15 65.58 L525.40 65.34 L525.65 65.03 L525.90 64.68 L526.15 64.36 L526.40 64.16 L526.65 64.19 L526.90 64.41 L527.15 64.75 L527.40 65.10 L527.65 65.40 L527.90 65.62 L528.15 65.77 L528.40 65.87 L528.65 65.92 L528.90 65.96 L529.15 65.97 L529.40 65.99 L529.65 66.00 L529.90 66.00 L530.15 66.01 L530.40 66.01 L530.65 66.02 L530.90 66.02 L531.15 66.02 L531.40 66.02 L531.65 66.03 L531.90 66.03 L532.15 66.03 L532.40 66.03 L532.65 66.03 L532.90 66.03 L533.15 66.03 L533.40 66.03 L533.65 66.03 L533.90 66.04 L534.15 66.04 L534.40 66.04 L534.65 66.04 L534.90 66.04 L535.15 66.04 L535.40 66.04 L535.65 66.04 L535.90 66.04 L536.15 66.04 L536.40 66.04 L536.65 66.04 L536.90 66.04 L537.15 66.04 L537.40 66.04 L537.65 66.04 L537.90 66.04 L538.15 66.04 L538.40 66.04 L538.65 66.04 L538.90 66.04 L539.15 66.03 L539.40 66.03 L539.65 66.03 L539.90 66.03 L540.15 66.03 L540.40 66.03 L540.65 66.03 L540.90 66.03 L541.15 66.02 L541.40 66.02 L541.65 66.02 L541.90 66.01 L542.15 66.00 L542.40 65.99 L542.65 65.97 L542.90 65.94 L543.15 65.89 L543.40 65.84 L543.65 65.77 L543.90 65.70 L544.15 65.62 L544.40 65.54 L544.65 65.48 L544.90 65.45 L545.15 65.45 L545.40 65.49 L545.65 65.56 L545.90 65.63 L546.15 65.71 L546.40 65.79 L546.65 65.85 L546.90 65.90 L547.15 65.94 L547.40 65.97 L547.65 65.99 L547.90 66.00 L548.15 66.01 L548.40 66.02 L548.65 66.02 L548.90 66.03 L549.15 66.03 L549.40 66.03 L549.65 66.03 L549.90 66.03 L550.15 66.03 L550.40 66.03 L550.65 66.03 L550.90 66.04 L551.15 66.04 L551.40 66.04 L551.65 66.04 L551.90 66.04 L552.15 66.04 L552.40 66.04 L552.65 66.04 L552.90 66.04 L553.15 66.04 L553.40 66.04 L553.65 66.04 L553.90 66.04 L554.15 66.04 L554.40 66.04 L554.65 66.04 L554.90 66.04 L555.15 66.04 L555.40 66.04 L555.65 66.04 L555.90 66.04 L556.15 66.04 L556.40 66.04 L556.65 66.04 L556.90 66.04 L557.15 66.04 L557.40 66.04 L557.65 66.04 L557.90 66.03 L558.15 66.03 L558.40 66.03 L558.65 66.03 L558.90 66.03 L559.15 66.03 L559.40 66.03 L559.65 66.03 L559.90 66.02 L560.15 66.02 L560.40 66.02 L560.65 66.01 L560.90 66.00 L561.15 65.99 L561.40 65.98 L561.65 65.95 L561.90 65.92 L562.15 65.87 L562.40 65.81 L562.65 65.73 L562.90 65.64 L563.15 65.55 L563.40 65.46 L563.65 65.39 L563.90 65.35 L564.15 65.35 L564.40 65.40 L564.65 65.47 L564.90 65.56 L565.15 65.66 L565.40 65.74 L565.65 65.82 L565.90 65.88 L566.15 65.92 L566.40 65.95 L566.65 65.98 L566.90 65.99 L567.15 66.00 L567.40 66.01 L567.65 66.01 L567.90 66.02 L568.15 66.02 L568.40 66.02 L568.65 66.02 L568.90 66.02 L569.15 66.02 L569.40 66.02 L569.65 66.03 L569.90 66.03 L570.15 66.03 L570.40 66.03 L570.65 66.02 L570.90 66.02 L571.15 66.02 L571.40 66.02 L571.65 66.02 L571.90 66.02 L572.15 66.02 L572.40 66.02 L572.65 66.01 L572.90 66.01 L573.15 66.01 L573.40 66.00 L573.65 65.99 L573.90 65.98 L574.15 65.96 L574.40 65.94 L574.65 65.90 L574.90 65.84 L575.15 65.77 L575.40 65.67 L575.65 65.55 L575.90 65.41 L576.15 65.26 L576.40 65.12 L576.65 65.01 L576.90 64.95 L577.15 64.96 L577.40 65.03 L577.65 65.15 L577.90 65.29 L578.15 65.44 L578.40 65.57 L578.65 65.69 L578.90 65.78 L579.15 65.86 L579.40 65.91 L579.65 65.94 L579.90 65.97 L580.15 65.98 L580.40 65.99 L580.65 66.00 L580.90 66.01 L581.15 66.01 L581.40 66.02 L581.65 66.02 L581.90 66.02 L582.15 66.02 L582.40 66.02 L582.65 66.03 L582.90 66.03 L583.15 66.03 L583.40 66.03 L583.65 66.03 L583.90 66.03 L584.15 66.03 L584.40 66.03 L584.65 66.03 L584.90 66.03 L585.15 66.03 L585.40 66.03 L585.65 66.03 L585.90 66.03 L586.15 66.04 L586.40 66.04 L586.65 66.04 L586.90 66.04 L587.15 66.04 L587.40 66.04 L587.65 66.03 L587.90 66.03 L588.15 66.03 L588.40 66.03 L588.65 66.03 L588.90 66.03 L589.15 66.03 L589.40 66.03 L589.65 66.03 L589.90 66.03 L590.15 66.03 L590.40 66.03 L590.65 66.03 L590.90 66.03 L591.15 66.02 L591.40 66.02 L591.65 66.02 L591.90 66.02 L592.15 66.01 L592.40 66.00 L592.65 65.99 L592.90 65.98 L593.15 65.96 L593.40 65.93 L593.65 65.88 L593.90 65.83 L594.15 65.76 L594.40 65.67 L594.65 65.58 L594.90 65.49 L595.15 65.41 L595.40 65.35 L595.65 65.34 L595.90 65.37 L596.15 65.43 L596.40 65.52 L596.65 65.61 L596.90 65.70 L597.15 65.78 L597.40 65.84 L597.65 65.89 L597.90 65.93 L598.15 65.95 L598.40 65.97 L598.65 65.98 L598.90 65.98 L599.15 65.98 L599.40 65.98 L599.65 65.98 L599.90 65.96 L600.15 65.95 L600.40 65.92 L600.65 65.88 L600.90 65.82 L601.15 65.75 L601.40 65.65 L601.65 65.54 L601.90 65.42 L602.15 65.31 L602.40 65.21 L602.65 65.15 L602.90 65.14 L603.15 65.19 L603.40 65.29 L603.65 65.40 L603.90 65.52 L604.15 65.64 L604.40 65.73 L604.65 65.82 L604.90 65.88 L605.15 65.92 L605.40 65.95 L605.65 65.98 L605.90 65.99 L606.15 66.00 L606.40 66.01 L606.65 66.01 L606.90 66.02 L607.15 66.02 L607.40 66.02 L607.65 66.02 L607.90 66.03 L608.15 66.03 L608.40 66.03 L608.65 66.03 L608.90 66.03 L609.15 66.03 L609.40 66.03 L609.65 66.03 L609.90 66.03 L610.15 66.04 L610.40 66.04 L610.65 66.04 L610.90 66.04 L611.15 66.04 L611.40 66.04 L611.65 66.04 L611.90 66.04 L612.15 66.04 L612.40 66.04 L612.65 66.04 L612.90 66.04 L613.15 66.04 L613.40 66.04 L613.65 66.04 L613.90 66.04 L614.15 66.04 L614.40 66.04 L614.65 66.04 L614.90 66.04 L615.15 66.04 L615.40 66.03 L615.65 66.03 L615.90 66.03 L616.15 66.03 L616.40 66.03 L616.65 66.03 L616.90 66.03 L617.15 66.02 L617.40 66.02 L617.65 66.01 L617.90 66.01 L618.15 65.99 L618.40 65.97 L618.65 65.95 L618.90 65.91 L619.15 65.86 L619.40 65.81 L619.65 65.74 L619.90 65.68 L620.15 65.61 L620.40 65.57 L620.65 65.54 L620.90 65.55 L621.15 65.59 L621.40 65.65 L621.65 65.71 L621.90 65.78 L622.15 65.84 L622.40 65.89 L622.65 65.93 L622.90 65.96 L623.15 65.98 L623.40 66.00 L623.65 66.01 L623.90 66.01 L624.15 66.02 L624.40 66.02 L624.65 66.02 L624.90 66.02 L625.15 66.03 L625.40 66.03 L625.65 66.03 L625.90 66.03 L626.15 66.03 L626.40 66.02 L626.65 66.02 L626.90 66.02 L627.15 66.02 L627.40 66.01 L627.65 66.01 L627.90 66.00 L628.15 65.99 L628.40 65.97 L628.65 65.94 L628.90 65.90 L629.15 65.85 L629.40 65.79 L629.65 65.71 L629.90 65.63 L630.15 65.56 L630.40 65.49 L630.65 65.45 L630.90 65.45 L631.15 65.48 L631.40 65.54 L631.65 65.62 L631.90 65.70 L632.15 65.78 L632.40 65.84 L632.65 65.90 L632.90 65.94 L633.15 65.97 L633.40 65.99 L633.65 66.00 L633.90 66.01 L634.15 66.02 L634.40 66.02 L634.65 66.03 L634.90 66.03 L635.15 66.03 L635.40 66.03 L635.65 66.03 L635.90 66.04 L636.15 66.04 L636.40 66.04 L636.65 66.04 L636.90 66.04 L637.15 66.04 L637.40 66.04 L637.65 66.04 L637.90 66.04 L638.15 66.04 L638.40 66.04 L638.65 66.04 L638.90 66.04 L639.15 66.04 L639.40 66.04 L639.65 66.04 L639.90 66.04 L640.15 66.04 L640.40 66.04 L640.65 66.04 L640.90 66.05 L641.15 66.05 L641.40 66.05 L641.65 66.05 L641.90 66.05 L642.15 66.05 L642.40 66.05 L642.65 66.05 L642.90 66.05 L643.15 66.05 L643.40 66.05 L643.65 66.05 L643.90 66.05 L644.15 66.05 L644.40 66.05 L644.65 66.05 L644.90 66.05 L645.15 66.05 L645.40 66.05 L645.65 66.05 L645.90 66.05 L646.15 66.05 L646.40 66.05 L646.65 66.05 L646.90 66.05 L647.15 66.05 L647.40 66.05 L647.65 66.05 L647.90 66.05 L648.15 66.05 L648.40 66.05 L648.65 66.05 L648.90 66.05 L649.15 66.05 L649.40 66.05 L649.65 66.05 L649.90 66.05 L650.15 66.05 L650.40 66.05"/>
</svg>
</body></html>
